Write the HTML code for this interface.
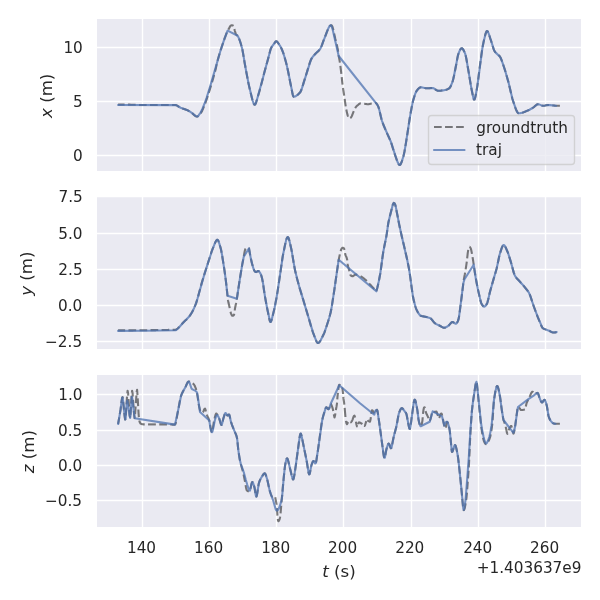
<!DOCTYPE html>
<html lang="en">
<head>
<meta charset="utf-8">
<title>traj xyz</title>
<style>
html,body{margin:0;padding:0;background:#fff;}
body{width:600px;height:600px;overflow:hidden;font-family:"DejaVu Sans","Liberation Sans",sans-serif;}
svg{display:block;}
text{text-rendering:auto;}
</style>
</head>
<body>
<svg width="600" height="600" viewBox="0 0 432 432">
 <defs>
  <style type="text/css">*{stroke-linejoin: round; stroke-linecap: butt}</style>
 </defs>
 <g id="figure_1">
  <g id="patch_1">
   <path d="M 0 432 L 432 432 L 432 0 L 0 0 z
" style="fill: #ffffff"/>
  </g>
  <g id="axes_1">
   <g id="patch_2">
    <path d="M 69.12 123.84 L 419.04 123.84 L 419.04 12.96 L 69.12 12.96 z
" style="fill: #eaeaf2"/>
   </g>
   <g id="matplotlib.axis_1">
    <g id="xtick_1">
     <g id="line2d_1">
      <path d="M 102.600 123.840 L 102.600 12.960" clip-path="url(#p8c6adeb11e)" style="fill: none; stroke: #ffffff; stroke-linecap: round"/>
     </g>
    </g>
    <g id="xtick_2">
     <g id="line2d_2">
      <path d="M 150.840 123.840 L 150.840 12.960" clip-path="url(#p8c6adeb11e)" style="fill: none; stroke: #ffffff; stroke-linecap: round"/>
     </g>
    </g>
    <g id="xtick_3">
     <g id="line2d_3">
      <path d="M 199.080 123.840 L 199.080 12.960" clip-path="url(#p8c6adeb11e)" style="fill: none; stroke: #ffffff; stroke-linecap: round"/>
     </g>
    </g>
    <g id="xtick_4">
     <g id="line2d_4">
      <path d="M 247.320 123.840 L 247.320 12.960" clip-path="url(#p8c6adeb11e)" style="fill: none; stroke: #ffffff; stroke-linecap: round"/>
     </g>
    </g>
    <g id="xtick_5">
     <g id="line2d_5">
      <path d="M 296.280 123.840 L 296.280 12.960" clip-path="url(#p8c6adeb11e)" style="fill: none; stroke: #ffffff; stroke-linecap: round"/>
     </g>
    </g>
    <g id="xtick_6">
     <g id="line2d_6">
      <path d="M 344.520 123.840 L 344.520 12.960" clip-path="url(#p8c6adeb11e)" style="fill: none; stroke: #ffffff; stroke-linecap: round"/>
     </g>
    </g>
    <g id="xtick_7">
     <g id="line2d_7">
      <path d="M 392.760 123.840 L 392.760 12.960" clip-path="url(#p8c6adeb11e)" style="fill: none; stroke: #ffffff; stroke-linecap: round"/>
     </g>
    </g>
   </g>
   <g id="matplotlib.axis_2">
    <g id="ytick_1">
     <g id="line2d_8">
      <path d="M 69.120 111.960 L 419.040 111.960" clip-path="url(#p8c6adeb11e)" style="fill: none; stroke: #ffffff; stroke-linecap: round"/>
     </g>
     <g id="text_1" transform="translate(-0.038 -0.112)">
      <text style="font-size: 11px; font-family: 'DejaVu Sans', 'Liberation Sans', sans-serif; text-anchor: end; fill: #262626" x="59.62" y="115.779141">0</text>
     </g>
    </g>
    <g id="ytick_2">
     <g id="line2d_9">
      <path d="M 69.120 73.080 L 419.040 73.080" clip-path="url(#p8c6adeb11e)" style="fill: none; stroke: #ffffff; stroke-linecap: round"/>
     </g>
     <g id="text_2" transform="translate(-0.003 -0.040)">
      <text style="font-size: 11px; font-family: 'DejaVu Sans', 'Liberation Sans', sans-serif; text-anchor: end; fill: #262626" x="59.62" y="76.899141">5</text>
     </g>
    </g>
    <g id="ytick_3">
     <g id="line2d_10">
      <path d="M 69.120 34.200 L 419.040 34.200" clip-path="url(#p8c6adeb11e)" style="fill: none; stroke: #ffffff; stroke-linecap: round"/>
     </g>
     <g id="text_3" transform="translate(0.038 -0.028)">
      <text style="font-size: 11px; font-family: 'DejaVu Sans', 'Liberation Sans', sans-serif; text-anchor: end; fill: #262626" x="59.62" y="38.019141">10</text>
     </g>
    </g>
    <g id="text_4" transform="translate(-0.485 0.543)">
     <g style="fill: #262626" transform="translate(39.126875 84.42) rotate(-90)">
      <text x="0" y="-0.890625" style="font-size: 12px; font-family: 'DejaVu Sans', 'Liberation Sans', sans-serif; fill: #262626"><tspan style="font-style: oblique">x</tspan> (m)</text>
     </g>
    </g>
   </g>
   <g id="line2d_11">
    <path d="M 85.03 75.35 L 85.39 75.35 L 85.75 75.35 L 86.11 75.35 L 86.47 75.35 L 86.83 75.35 L 87.19 75.35 L 87.55 75.35 L 87.91 75.35 L 88.27 75.35 L 88.63 75.35 L 88.99 75.35 L 89.35 75.35 L 89.71 75.35 L 90.07 75.35 L 90.43 75.35 L 90.79 75.35 L 91.15 75.35 L 91.51 75.35 L 91.87 75.35 L 92.23 75.35 L 92.59 75.35 L 92.95 75.35 L 93.31 75.35 L 93.67 75.35 L 94.03 75.36 L 94.39 75.38 L 94.75 75.39 L 95.11 75.40 L 95.47 75.41 L 95.83 75.43 L 96.19 75.44 L 96.55 75.45 L 96.91 75.46 L 97.27 75.48 L 97.63 75.49 L 97.99 75.50 L 98.35 75.51 L 98.71 75.53 L 99.07 75.54 L 99.43 75.55 L 99.79 75.56 L 100.15 75.58 L 100.51 75.59 L 100.87 75.60 L 101.23 75.60 L 101.59 75.60 L 101.95 75.60 L 102.31 75.60 L 102.67 75.60 L 103.03 75.60 L 103.39 75.60 L 103.75 75.60 L 104.11 75.60 L 104.47 75.60 L 104.83 75.60 L 105.19 75.60 L 105.55 75.60 L 105.91 75.60 L 106.27 75.60 L 106.63 75.60 L 106.99 75.60 L 107.35 75.60 L 107.71 75.60 L 108.07 75.60 L 108.43 75.60 L 108.79 75.60 L 109.15 75.60 L 109.51 75.60 L 109.87 75.60 L 110.23 75.60 L 110.59 75.60 L 110.95 75.60 L 111.31 75.60 L 111.67 75.60 L 112.03 75.60 L 112.39 75.60 L 112.75 75.60 L 113.11 75.60 L 113.47 75.60 L 113.83 75.60 L 114.19 75.60 L 114.55 75.60 L 114.91 75.60 L 115.27 75.60 L 115.63 75.60 L 115.99 75.60 L 116.35 75.60 L 116.71 75.60 L 117.07 75.60 L 117.43 75.60 L 117.79 75.60 L 118.15 75.60 L 118.51 75.60 L 118.87 75.60 L 119.23 75.60 L 119.59 75.60 L 119.95 75.60 L 120.31 75.60 L 120.67 75.60 L 121.03 75.60 L 121.39 75.60 L 121.75 75.60 L 122.11 75.60 L 122.47 75.60 L 122.83 75.60 L 123.19 75.60 L 123.55 75.60 L 123.91 75.60 L 124.27 75.60 L 124.63 75.60 L 124.99 75.60 L 125.35 75.60 L 125.71 75.60 L 126.07 75.60 L 126.43 75.62 L 126.79 75.70 L 127.15 75.85 L 127.51 76.05 L 127.87 76.29 L 128.23 76.54 L 128.59 76.79 L 128.95 77.04 L 129.31 77.26 L 129.67 77.43 L 130.03 77.59 L 130.39 77.73 L 130.75 77.87 L 131.11 77.99 L 131.47 78.12 L 131.83 78.24 L 132.19 78.36 L 132.55 78.48 L 132.91 78.60 L 133.27 78.72 L 133.63 78.85 L 133.99 78.98 L 134.35 79.12 L 134.71 79.27 L 135.07 79.43 L 135.43 79.60 L 135.79 79.78 L 136.15 79.98 L 136.51 80.19 L 136.87 80.41 L 137.23 80.65 L 137.59 80.89 L 137.95 81.15 L 138.31 81.42 L 138.67 81.73 L 139.03 82.08 L 139.39 82.45 L 139.75 82.80 L 140.11 83.11 L 140.47 83.35 L 140.83 83.57 L 141.19 83.77 L 141.55 83.91 L 141.91 83.95 L 142.27 83.81 L 142.63 83.52 L 142.99 83.12 L 143.37 82.64 L 143.84 82.12 L 144.31 81.62 L 144.78 81.06 L 145.22 80.41 L 145.58 79.68 L 145.94 78.89 L 146.30 78.06 L 146.66 77.19 L 147.02 76.31 L 147.38 75.42 L 147.74 74.50 L 148.10 73.54 L 148.46 72.53 L 148.82 71.48 L 149.18 70.41 L 149.54 69.31 L 149.90 68.18 L 150.26 67.04 L 150.62 65.89 L 150.98 64.73 L 151.34 63.57 L 151.70 62.41 L 152.06 61.23 L 152.42 60.02 L 152.78 58.78 L 153.14 57.53 L 153.50 56.27 L 153.86 55.00 L 154.22 53.73 L 154.58 52.45 L 154.94 51.18 L 155.28 49.93 L 155.53 48.68 L 155.79 47.41 L 156.04 46.13 L 156.31 44.85 L 156.67 43.56 L 157.03 42.29 L 157.39 41.02 L 157.75 39.78 L 158.11 38.56 L 158.47 37.37 L 158.83 36.22 L 159.19 35.11 L 159.55 34.00 L 159.91 32.92 L 160.27 31.84 L 160.63 30.78 L 160.99 29.74 L 161.35 28.71 L 161.71 27.70 L 162.07 26.71 L 162.43 25.73 L 162.79 24.78 L 163.15 23.84 L 163.51 22.93 L 163.87 22.03 L 164.24 21.56 L 164.37 21.36" clip-path="url(#p8c6adeb11e)" style="fill: none; stroke-dasharray: 5.550,2.400; stroke-dashoffset: 0.876; stroke: #000000; stroke-opacity: 0.5; stroke-width: 1.5"/>
<path d="M 164.38 21.35 L 164.60 21.03 L 164.97 20.43 L 165.34 19.63 L 165.70 18.87 L 166.07 18.52 L 166.43 18.34 L 166.80 18.24 L 167.17 18.22 L 167.53 18.29 L 167.90 18.44 L 168.26 18.69 L 168.63 20.31 L 169.00 21.99 L 169.36 23.17 L 169.73 24.19 L 170.09 24.92 L 170.46 25.27 L 170.82 25.52 L 171.18 25.96 L 171.54 26.56 L 171.90 27.30 L 172.26 28.17 L 172.62 29.15 L 172.98 30.21 L 173.34 31.35 L 173.70 32.53 L 174.06 33.74 L 174.42 35.23 L 174.78 37.09 L 175.14 39.20 L 175.50 41.43 L 175.86 43.67 L 176.22 45.80 L 176.58 47.74 L 176.94 49.67 L 177.30 51.62 L 177.66 53.56 L 178.02 55.48 L 178.38 57.36 L 178.74 59.18 L 179.10 60.91 L 179.46 62.55 L 179.82 64.07 L 180.18 65.49 L 180.54 66.97 L 180.89 68.49 L 181.25 69.99 L 181.61 71.42 L 181.97 72.72 L 182.33 73.82 L 182.69 74.67 L 183.05 75.21 L 183.41 75.38 L 183.77 75.11 L 184.13 74.44 L 184.49 73.48 L 184.85 72.31 L 185.21 71.03 L 185.57 69.74 L 185.93 68.54 L 186.29 67.40 L 186.65 66.20 L 187.01 64.94 L 187.37 63.63 L 187.73 62.28 L 188.09 60.90 L 188.45 59.50 L 188.81 58.08 L 189.17 56.66 L 189.53 55.24 L 189.89 53.84 L 190.25 52.45 L 190.61 51.10 L 190.97 49.78 L 191.33 48.48 L 191.69 47.18 L 192.05 45.89 L 192.41 44.60 L 192.77 43.32 L 193.13 42.03 L 193.49 40.65 L 193.85 39.18 L 194.21 37.72 L 194.57 36.36 L 194.93 35.21 L 195.29 34.37 L 195.65 33.77 L 196.01 33.29 L 196.37 32.86 L 196.73 32.45 L 197.09 32.01 L 197.45 31.45 L 197.81 30.82 L 198.17 30.24 L 198.53 29.82 L 198.89 29.66 L 199.25 29.80 L 199.61 30.13 L 199.97 30.58 L 200.33 31.07 L 200.69 31.53 L 201.05 32.03 L 201.40 32.58 L 201.76 33.19 L 202.12 33.85 L 202.48 34.56 L 202.84 35.32 L 203.20 36.16 L 203.56 37.09 L 203.92 38.10 L 204.28 39.18 L 204.64 40.34 L 205.00 41.55 L 205.36 42.82 L 205.72 44.13 L 206.08 45.48 L 206.44 46.87 L 206.80 48.38 L 207.16 50.06 L 207.52 51.85 L 207.88 53.72 L 208.24 55.61 L 208.60 57.48 L 208.96 59.28 L 209.32 60.96 L 209.68 62.66 L 210.04 64.57 L 210.40 66.46 L 210.76 68.09 L 211.12 69.22 L 211.48 69.62 L 211.84 69.60 L 212.20 69.52 L 212.56 69.40 L 212.92 69.24 L 213.28 69.04 L 213.64 68.81 L 214.00 68.54 L 214.36 68.24 L 214.72 67.92 L 215.08 67.57 L 215.44 67.20 L 215.80 66.82 L 216.16 66.40 L 216.52 65.79 L 216.88 64.99 L 217.24 64.03 L 217.60 62.95 L 217.96 61.78 L 218.32 60.57 L 218.68 59.34 L 219.04 58.13 L 219.40 56.99 L 219.76 55.92 L 220.12 54.80 L 220.48 53.64 L 220.84 52.43 L 221.20 51.21 L 221.55 49.98 L 221.91 48.76 L 222.27 47.57 L 222.63 46.42 L 222.99 45.34 L 223.35 44.34 L 223.71 43.43 L 224.07 42.63 L 224.43 41.96 L 224.79 41.40 L 225.15 40.90 L 225.51 40.45 L 225.87 40.04 L 226.23 39.64 L 226.59 39.25 L 226.95 38.86 L 227.31 38.49 L 227.67 38.16 L 228.03 37.85 L 228.39 37.54 L 228.75 37.23 L 229.11 36.91 L 229.47 36.55 L 229.83 36.16 L 230.19 35.71 L 230.55 35.19 L 230.91 34.53 L 231.27 33.74 L 231.63 32.84 L 231.99 31.87 L 232.35 30.85 L 232.71 29.81 L 233.07 28.79 L 233.43 27.81 L 233.79 26.91 L 234.15 26.09 L 234.51 25.22 L 234.87 24.30 L 235.23 23.36 L 235.59 22.42 L 235.95 21.51 L 236.31 20.66 L 236.67 19.89 L 237.03 19.23 L 237.45 18.72 L 237.95 18.37 L 238.45 18.22 L 238.90 18.39 L 239.26 19.05 L 239.62 20.10 L 239.98 21.45 L 240.34 23.00 L 240.70 24.66 L 241.06 26.34 L 241.42 27.93 L 241.78 29.37 L 242.14 30.81 L 242.50 32.29 L 242.86 33.82 L 243.22 35.39 L 243.43 37.00 L 243.65 38.64 L 243.86 40.32 L 244.23 42.13 L 244.59 44.22 L 244.95 46.61 L 245.07 47.47" clip-path="url(#p8c6adeb11e)" style="fill: none; stroke-dasharray: 5.550,2.400; stroke-dashoffset: 0.000; stroke: #000000; stroke-opacity: 0.5; stroke-width: 1.5"/>
<path d="M 245.07 47.49 L 245.31 49.32 L 245.67 52.26 L 246.03 55.54" clip-path="url(#p8c6adeb11e)" style="fill: none; stroke-dasharray: 5.669,2.451; stroke-dashoffset: 0.000; stroke: #000000; stroke-opacity: 0.5; stroke-width: 1.5"/>
<path d="M 246.04 55.55 L 246.04 55.55 L 246.40 59.10 L 246.76 62.04 L 246.95 63.34" clip-path="url(#p8c6adeb11e)" style="fill: none; stroke-dasharray: 5.487,2.373; stroke-dashoffset: 0.000; stroke: #000000; stroke-opacity: 0.5; stroke-width: 1.5"/>
<path d="M 246.95 63.36 L 247.12 64.50 L 247.48 66.76 L 247.85 69.03 L 248.16 71.18" clip-path="url(#p8c6adeb11e)" style="fill: none; stroke-dasharray: 5.538,2.395; stroke-dashoffset: 0.000; stroke: #000000; stroke-opacity: 0.5; stroke-width: 1.5"/>
<path d="M 248.16 71.20 L 248.21 71.53 L 248.57 74.21 L 248.93 76.69 L 249.29 78.65 L 249.34 78.86" clip-path="url(#p8c6adeb11e)" style="fill: none; stroke-dasharray: 5.427,2.347; stroke-dashoffset: 0.000; stroke: #000000; stroke-opacity: 0.5; stroke-width: 1.5"/>
<path d="M 249.34 78.88 L 249.66 80.41 L 250.02 81.98 L 250.38 83.24 L 250.74 84.11 L 251.10 84.82 L 251.46 85.17 L 251.83 85.12 L 252.18 84.96" clip-path="url(#p8c6adeb11e)" style="fill: none; stroke-dasharray: 5.234,2.263; stroke-dashoffset: 0.000; stroke: #000000; stroke-opacity: 0.5; stroke-width: 1.5"/>
<path d="M 252.19 84.96 L 252.55 84.74 L 252.91 84.33 L 253.27 83.65 L 253.64 82.80 L 254.00 81.85 L 254.36 80.91 L 254.72 80.05 L 255.08 79.18 L 255.45 78.32 L 255.69 77.87" clip-path="url(#p8c6adeb11e)" style="fill: none; stroke-dasharray: 5.597,2.420; stroke-dashoffset: 0.000; stroke: #000000; stroke-opacity: 0.5; stroke-width: 1.5"/>
<path d="M 255.69 77.86 L 255.81 77.65 L 256.17 77.15 L 256.53 76.72 L 256.89 76.35 L 257.26 76.02 L 257.62 75.71 L 257.98 75.42 L 258.34 75.11 L 258.70 74.81 L 259.07 74.58 L 259.43 74.46 L 259.79 74.45 L 260.15 74.47 L 260.51 74.50 L 260.88 74.53 L 261.24 74.58 L 261.60 74.62 L 261.96 74.67 L 262.20 74.69" clip-path="url(#p8c6adeb11e)" style="fill: none; stroke-dasharray: 5.526,2.390; stroke-dashoffset: 0.000; stroke: #000000; stroke-opacity: 0.5; stroke-width: 1.5"/>
<path d="M 262.21 74.69 L 262.32 74.71 L 262.69 74.75 L 263.05 74.81 L 263.41 74.87 L 263.77 74.92 L 264.13 74.97 L 264.49 75.01 L 264.86 75.02 L 265.22 75.01 L 265.58 74.97 L 265.94 74.91 L 266.30 74.82 L 266.67 74.73 L 267.03 74.64 L 267.39 74.57 L 267.75 74.51 L 268.11 74.45 L 268.48 74.40 L 268.84 74.36 L 269.20 74.31 L 269.56 74.27 L 269.92 74.23 L 270.29 74.19 L 270.65 74.16 L 271.01 74.46 L 271.37 74.92 L 271.73 75.52 L 272.09 76.22 L 272.45 76.99 L 272.81 78.06 L 273.17 79.43 L 273.53 81.01 L 273.89 82.65 L 274.25 84.25 L 274.61 85.68 L 274.97 86.85 L 275.33 87.90 L 275.69 88.89 L 276.05 89.82 L 276.41 90.72 L 276.77 91.58 L 277.13 92.42 L 277.49 93.25 L 277.85 94.07 L 278.21 94.90 L 278.57 95.75 L 278.93 96.55 L 279.29 97.33 L 279.65 98.09 L 280.01 98.86 L 280.37 99.63 L 280.73 100.45 L 281.09 101.31 L 281.45 102.23 L 281.81 103.27 L 282.17 104.41 L 282.53 105.62 L 282.89 106.86 L 283.25 108.10 L 283.62 109.30 L 283.98 110.42 L 284.34 111.43 L 284.70 112.38 L 285.06 113.40 L 285.42 114.43 L 285.78 115.44 L 286.14 116.39 L 286.50 117.24 L 286.86 117.95 L 287.22 118.46 L 287.58 118.75 L 287.94 118.77 L 288.30 118.45 L 288.66 117.85 L 289.02 117.02 L 289.38 116.02 L 289.74 114.91 L 290.10 113.73 L 290.46 112.54 L 290.82 111.10 L 291.18 109.35 L 291.54 107.37 L 291.90 105.23 L 292.26 103.02 L 292.62 100.80 L 292.98 98.63 L 293.34 96.32 L 293.70 93.88 L 294.06 91.40 L 294.42 88.93 L 294.78 86.56 L 295.14 84.36 L 295.50 82.30 L 295.86 80.25 L 296.22 78.25 L 296.58 76.36 L 296.94 74.60 L 297.30 73.04 L 297.66 71.69 L 298.02 70.45 L 298.38 69.27 L 298.74 68.17 L 299.10 67.19 L 299.46 66.35 L 299.82 65.67 L 300.18 65.17 L 300.54 64.70 L 300.90 64.26 L 301.26 63.86 L 301.63 63.51 L 301.99 63.23 L 302.35 63.01 L 302.71 62.89 L 303.07 62.86 L 303.43 62.88 L 303.79 62.92 L 304.15 62.99 L 304.51 63.07 L 304.87 63.16 L 305.23 63.25 L 305.59 63.34 L 305.95 63.42 L 306.31 63.49 L 306.67 63.54 L 307.03 63.57 L 307.39 63.58 L 307.75 63.57 L 308.11 63.55 L 308.47 63.53 L 308.83 63.50 L 309.19 63.48 L 309.55 63.45 L 309.91 63.42 L 310.27 63.40 L 310.63 63.38 L 310.99 63.37 L 311.35 63.36 L 311.71 63.39 L 312.07 63.50 L 312.43 63.67 L 312.79 63.88 L 313.15 64.13 L 313.51 64.39 L 313.87 64.64 L 314.23 64.88 L 314.59 65.09 L 314.95 65.25 L 315.31 65.35 L 315.67 65.38 L 316.03 65.37 L 316.39 65.35 L 316.75 65.33 L 317.11 65.30 L 317.47 65.27 L 317.83 65.22 L 318.19 65.18 L 318.55 65.12 L 318.91 65.07 L 319.27 65.01 L 319.64 64.94 L 320.00 64.88 L 320.36 64.81 L 320.72 64.73 L 321.08 64.65 L 321.44 64.54 L 321.80 64.42 L 322.16 64.28 L 322.52 64.11 L 322.88 63.92 L 323.24 63.70 L 323.60 63.43 L 323.96 63.00 L 324.32 62.41 L 324.68 61.68 L 325.04 60.84 L 325.40 59.92 L 325.76 58.94 L 326.12 57.81 L 326.48 56.38 L 326.84 54.74 L 327.20 52.96 L 327.56 51.11 L 327.92 49.28 L 328.28 47.51 L 328.64 45.55 L 329.00 43.48 L 329.36 41.51 L 329.72 39.87 L 330.08 38.74 L 330.44 37.80 L 330.80 36.91 L 331.16 36.12 L 331.52 35.47 L 331.88 35.00 L 332.24 34.74 L 332.60 34.73 L 332.96 34.96 L 333.32 35.38 L 333.68 35.96 L 334.04 36.66 L 334.40 37.45 L 334.76 38.29 L 335.12 39.35 L 335.48 40.85 L 335.84 42.68 L 336.20 44.72 L 336.56 46.86 L 336.92 48.99 L 337.28 51.00 L 337.65 53.12 L 338.01 55.35 L 338.37 57.63 L 338.73 59.88 L 339.09 62.01 L 339.45 63.94 L 339.81 65.68 L 340.17 67.55 L 340.53 69.35 L 340.89 70.81 L 341.25 71.67 L 341.61 71.67 L 341.97 70.84 L 342.33 69.41 L 342.69 67.63 L 343.05 65.71 L 343.41 63.79 L 343.77 61.44 L 344.13 58.71 L 344.49 55.74 L 344.85 52.71 L 345.21 49.75 L 345.57 47.02 L 345.93 44.43 L 346.29 41.79 L 346.65 39.17 L 347.01 36.67 L 347.37 34.36 L 347.73 32.34 L 348.09 30.67 L 348.45 29.05 L 348.81 27.44 L 349.17 25.92 L 349.53 24.58 L 349.89 23.48 L 350.25 22.71 L 350.61 22.34 L 350.97 22.43 L 351.33 22.92 L 351.69 23.70 L 352.05 24.70 L 352.41 25.83 L 352.77 26.99 L 353.13 28.12 L 353.49 29.12 L 353.85 30.21 L 354.21 31.40 L 354.57 32.64 L 354.93 33.84 L 355.29 34.97 L 355.66 35.94 L 356.02 36.70 L 356.38 37.25 L 356.74 37.70 L 357.10 38.07 L 357.46 38.40 L 357.82 38.69 L 358.18 38.96 L 358.54 39.24 L 358.90 39.55 L 359.26 39.89 L 359.62 40.30 L 359.98 40.79 L 360.34 41.41 L 360.70 42.18 L 361.06 43.07 L 361.42 44.05 L 361.78 45.07 L 362.14 46.12 L 362.50 47.15 L 362.86 48.22 L 363.22 49.33 L 363.58 50.47 L 363.94 51.66 L 364.30 52.87 L 364.66 54.12 L 365.02 55.38 L 365.38 56.67 L 365.74 57.97 L 366.10 59.29 L 366.46 60.70 L 366.82 62.21 L 367.18 63.78 L 367.54 65.37 L 367.90 66.95 L 368.26 68.49 L 368.62 69.96 L 368.98 71.32 L 369.34 72.53 L 369.70 73.58 L 370.06 74.63 L 370.42 75.70 L 370.78 76.75 L 371.14 77.77 L 371.50 78.72 L 371.86 79.58 L 372.22 80.33 L 372.58 80.92 L 372.94 81.34 L 373.30 81.55 L 373.67 81.57 L 374.03 81.55 L 374.39 81.52 L 374.75 81.46 L 375.11 81.39 L 375.47 81.31 L 375.83 81.21 L 376.19 81.10 L 376.55 80.99 L 376.91 80.86 L 377.27 80.72 L 377.63 80.58 L 377.99 80.43 L 378.35 80.28 L 378.71 80.13 L 379.07 79.97 L 379.43 79.82 L 379.79 79.66 L 380.15 79.51 L 380.51 79.36 L 380.87 79.20 L 381.23 79.02 L 381.59 78.83 L 381.95 78.63 L 382.31 78.42 L 382.67 78.21 L 383.03 77.99 L 383.39 77.77 L 383.75 77.54 L 384.11 77.31 L 384.47 77.04 L 384.83 76.72 L 385.19 76.39 L 385.55 76.05 L 385.91 75.74 L 386.27 75.45 L 386.63 75.23 L 386.99 75.08 L 387.35 75.02 L 387.71 75.05 L 388.07 75.13 L 388.43 75.25 L 388.79 75.39 L 389.15 75.55 L 389.51 75.71 L 389.87 75.87 L 390.23 76.00 L 390.59 76.10 L 390.95 76.16 L 391.31 76.17 L 391.68 76.15 L 392.04 76.09 L 392.40 76.02 L 392.76 75.94 L 393.12 75.85 L 393.48 75.77 L 393.84 75.70 L 394.20 75.64 L 394.56 75.61 L 394.92 75.60 L 395.28 75.61 L 395.64 75.64 L 396.00 75.67 L 396.36 75.71 L 396.72 75.75 L 397.08 75.80 L 397.44 75.85 L 397.69 75.88" clip-path="url(#p8c6adeb11e)" style="fill: none; stroke-dasharray: 5.521,2.388; stroke-dashoffset: 0.000; stroke: #000000; stroke-opacity: 0.5; stroke-width: 1.5"/>
<path d="M 397.71 75.88 L 397.80 75.89 L 398.16 75.94 L 398.52 75.98 L 398.88 76.01 L 399.24 76.05 L 399.60 76.09 L 399.96 76.13 L 400.32 76.18 L 403.13 76.18" clip-path="url(#p8c6adeb11e)" style="fill: none; stroke-dasharray: 5.550,2.400; stroke-dashoffset: 0.000; stroke: #000000; stroke-opacity: 0.5; stroke-width: 1.5"/>
   </g>
   <g id="line2d_12">
    <path d="M 85.032 75.6 L 126.792 75.702367 L 127.511999 76.053047 L 130.032 77.585245 L 132.552 78.478192 L 135.071999 79.425131 L 136.512 80.187827 L 138.311999 81.415037 L 141.191999 83.770574 L 141.911999 83.947899 L 142.271999 83.814427 L 142.991999 83.116794 L 144.432 81.056721 L 145.512 78.891493 L 147.311999 74.501569 L 148.752 70.409741 L 151.271999 62.407509 L 153.432 54.999995 L 158.832 36.224955 L 161.351999 28.709027 L 163.512 22.926095 L 163.871999 22.032 L 170.819823 25.522408 L 171.53947 26.556131 L 172.259117 28.171525 L 173.338588 31.346969 L 174.418058 35.231824 L 175.137706 39.195661 L 176.936823 49.670952 L 179.095764 60.914623 L 180.535058 66.96603 L 181.974352 72.719611 L 182.693999 74.673332 L 183.053823 75.212996 L 183.413646 75.382312 L 183.77347 75.11147 L 184.133294 74.444729 L 184.852941 72.307899 L 189.170823 56.660724 L 191.689588 47.180225 L 193.848529 39.180023 L 194.927999 35.214578 L 195.647647 33.77172 L 198.526235 29.815626 L 198.886058 29.664512 L 199.245882 29.803125 L 199.965529 30.581591 L 201.764647 33.189841 L 202.844117 35.32417 L 203.923587 38.100647 L 205.003058 41.549537 L 206.442353 46.871698 L 207.521823 51.85239 L 210.760235 68.088871 L 211.120058 69.221451 L 211.479882 69.62395 L 212.199529 69.521784 L 212.919176 69.240744 L 213.998646 68.53781 L 215.078117 67.571305 L 216.157588 66.402731 L 216.877235 64.989574 L 217.596882 62.948576 L 223.713881 43.426772 L 224.433528 41.960055 L 225.513 40.450296 L 227.312117 38.494826 L 230.190705 35.711532 L 230.910352 34.532703 L 231.629999 32.839182 L 235.588058 22.419581 L 236.667529 19.886977 L 237.387176 18.717199 L 237.747 18.370786 L 238.106823 18.220195 L 238.466647 18.39262 L 238.82647 19.048645 L 239.546117 21.44889 L 243.864 40.32 L 271.7286 75.521185 L 272.448999 76.990769 L 273.169399 79.434035 L 274.970399 86.846788 L 276.411199 90.717027 L 279.292799 97.331366 L 281.0938 101.305704 L 281.814199 103.27125 L 285.4162 114.42884 L 286.496799 117.242283 L 287.217199 118.463594 L 287.5774 118.753021 L 287.9376 118.767325 L 288.297799 118.453708 L 288.658 117.853885 L 289.378399 116.023526 L 290.458999 112.544003 L 291.179399 109.352887 L 292.26 103.01716 L 294.061 91.396362 L 295.5018 82.296629 L 296.942599 74.604269 L 297.663 71.693631 L 298.743599 68.172951 L 299.463999 66.347822 L 300.1844 65.165256 L 301.264999 63.86438 L 301.9854 63.225486 L 302.705799 62.885832 L 303.426199 62.878546 L 304.866999 63.157 L 306.667999 63.542226 L 308.108799 63.551019 L 311.7108 63.391838 L 312.431199 63.668077 L 313.872 64.642934 L 314.9526 65.254634 L 315.672999 65.375678 L 317.474 65.265821 L 319.995399 64.876816 L 321.4362 64.542613 L 322.516799 64.111171 L 323.5974 63.433291 L 324.3178 62.406624 L 325.038199 60.838186 L 326.1188 57.805768 L 326.839199 54.739877 L 328.640199 45.554531 L 329.720799 39.869806 L 330.441199 37.799276 L 331.161599 36.122619 L 331.881999 34.995718 L 332.2422 34.738521 L 332.602399 34.73366 L 332.962599 34.960959 L 333.683 35.96179 L 334.763599 38.289873 L 335.123799 39.349748 L 335.8442 42.679625 L 338.0054 55.351059 L 339.446199 63.940674 L 340.886999 70.810286 L 341.2472 71.667567 L 341.607399 71.666129 L 341.967599 70.837267 L 342.687999 67.625575 L 343.7686 61.437786 L 347.370599 34.363051 L 348.091 30.668852 L 349.531799 24.575924 L 350.2522 22.705151 L 350.612399 22.339075 L 350.9726 22.432624 L 351.332799 22.916075 L 352.0532 24.700329 L 355.6552 35.940137 L 356.3756 37.247977 L 357.095999 38.072512 L 359.9776 40.79057 L 360.697999 42.17918 L 361.7786 45.073963 L 363.9398 51.658629 L 366.101 59.287111 L 367.5418 65.366857 L 368.982599 71.315207 L 370.0632 74.630509 L 371.503999 78.723301 L 372.2244 80.325812 L 372.944799 81.337533 L 373.304999 81.552738 L 374.3856 81.515072 L 375.826399 81.211256 L 377.627399 80.581361 L 381.229399 79.020733 L 383.390599 77.765688 L 384.4712 77.037144 L 386.6324 75.229689 L 387.352799 75.024023 L 388.0732 75.129679 L 389.513999 75.710779 L 390.5946 76.103924 L 391.315 76.17349 L 392.3956 76.022468 L 394.5568 75.606146 L 395.9976 75.667246 L 400.32 76.176 L 400.32 76.176 
" clip-path="url(#p8c6adeb11e)" style="fill: none; stroke: #4c72b0; stroke-opacity: 0.75; stroke-width: 1.5; stroke-linecap: round"/>
   </g>
   <g id="patch_3">
    <path d="M 69.12 123.84 L 69.12 12.96 
" style="fill: none; stroke: #ffffff; stroke-width: 1.44; stroke-linejoin: miter; stroke-linecap: square"/>
   </g>
   <g id="patch_4">
    <path d="M 419.04 123.84 L 419.04 12.96 
" style="fill: none; stroke: #ffffff; stroke-width: 1.44; stroke-linejoin: miter; stroke-linecap: square"/>
   </g>
   <g id="patch_5">
    <path d="M 69.119999 123.84 L 419.039999 123.84 
" style="fill: none; stroke: #ffffff; stroke-width: 1.44; stroke-linejoin: miter; stroke-linecap: square"/>
   </g>
   <g id="patch_6">
    <path d="M 69.119999 12.96 L 419.039999 12.96 
" style="fill: none; stroke: #ffffff; stroke-width: 1.44; stroke-linejoin: miter; stroke-linecap: square"/>
   </g>
   <g id="legend_1">
    <g id="patch_7">
     <path d="M 310.720 118.440 L 411.440 118.440 Q 413.640 118.440 413.640 116.240 L 413.640 85.360 Q 413.640 83.160 411.440 83.160 L 310.720 83.160 Q 308.520 83.160 308.520 85.360 L 308.520 116.240 Q 308.520 118.440 310.720 118.440 z" style="fill: #eaeaf2; opacity: 0.8; stroke: #cccccc; stroke-linejoin: miter"/>
    </g>
<g transform="translate(-0.057 -0.308)">
    <g id="line2d_13">
     <path d="M 312.537 91.748 L 334.537 91.748" style="fill: none; stroke-dasharray: 5.55,2.4; stroke-dashoffset: 0; stroke: #000000; stroke-opacity: 0.5; stroke-width: 1.5"/>
    </g>
    <g id="text_5" transform="translate(-0.217 0.709)">
     <text style="font-size: 11px; font-family: 'DejaVu Sans', 'Liberation Sans', sans-serif; text-anchor: start; fill: #262626" x="343.136563" y="95.506406">groundtruth</text>
    </g>
    <g id="line2d_14">
     <path d="M 312.537 108.308 L 334.537 108.308" style="fill: none; stroke: #4c72b0; stroke-opacity: 0.75; stroke-width: 1.5; stroke-linecap: round"/>
    </g>
    <g id="text_6" transform="translate(-0.343 0.077)">
     <text style="font-size: 11px; font-family: 'DejaVu Sans', 'Liberation Sans', sans-serif; text-anchor: start; fill: #262626" x="343.136563" y="111.652344">traj</text>
    </g>
   </g>
</g></g>
  <g id="axes_2">
   <g id="patch_8">
    <path d="M 69.12 252 L 419.04 252 L 419.04 141.12 L 69.12 141.12 z
" style="fill: #eaeaf2"/>
   </g>
   <g id="matplotlib.axis_3">
    <g id="xtick_8">
     <g id="line2d_15">
      <path d="M 102.600 252.000 L 102.600 141.120" clip-path="url(#p5348a36c46)" style="fill: none; stroke: #ffffff; stroke-linecap: round"/>
     </g>
    </g>
    <g id="xtick_9">
     <g id="line2d_16">
      <path d="M 150.840 252.000 L 150.840 141.120" clip-path="url(#p5348a36c46)" style="fill: none; stroke: #ffffff; stroke-linecap: round"/>
     </g>
    </g>
    <g id="xtick_10">
     <g id="line2d_17">
      <path d="M 199.080 252.000 L 199.080 141.120" clip-path="url(#p5348a36c46)" style="fill: none; stroke: #ffffff; stroke-linecap: round"/>
     </g>
    </g>
    <g id="xtick_11">
     <g id="line2d_18">
      <path d="M 247.320 252.000 L 247.320 141.120" clip-path="url(#p5348a36c46)" style="fill: none; stroke: #ffffff; stroke-linecap: round"/>
     </g>
    </g>
    <g id="xtick_12">
     <g id="line2d_19">
      <path d="M 296.280 252.000 L 296.280 141.120" clip-path="url(#p5348a36c46)" style="fill: none; stroke: #ffffff; stroke-linecap: round"/>
     </g>
    </g>
    <g id="xtick_13">
     <g id="line2d_20">
      <path d="M 344.520 252.000 L 344.520 141.120" clip-path="url(#p5348a36c46)" style="fill: none; stroke: #ffffff; stroke-linecap: round"/>
     </g>
    </g>
    <g id="xtick_14">
     <g id="line2d_21">
      <path d="M 392.760 252.000 L 392.760 141.120" clip-path="url(#p5348a36c46)" style="fill: none; stroke: #ffffff; stroke-linecap: round"/>
     </g>
    </g>
   </g>
   <g id="matplotlib.axis_4">
    <g id="ytick_4">
     <g id="line2d_22">
      <path d="M 69.120 245.880 L 419.040 245.880" clip-path="url(#p5348a36c46)" style="fill: none; stroke: #ffffff; stroke-linecap: round"/>
     </g>
     <g id="text_7" transform="translate(-0.474 0.033)">
      <text style="font-size: 11px; font-family: 'DejaVu Sans', 'Liberation Sans', sans-serif; text-anchor: end; fill: #262626" x="59.62" y="249.843141">−2.5</text>
     </g>
    </g>
    <g id="ytick_5">
     <g id="line2d_23">
      <path d="M 69.120 219.960 L 419.040 219.960" clip-path="url(#p5348a36c46)" style="fill: none; stroke: #ffffff; stroke-linecap: round"/>
     </g>
     <g id="text_8" transform="translate(-0.387 -0.083)">
      <text style="font-size: 11px; font-family: 'DejaVu Sans', 'Liberation Sans', sans-serif; text-anchor: end; fill: #262626" x="59.62" y="223.779141">0.0</text>
     </g>
    </g>
    <g id="ytick_6">
     <g id="line2d_24">
      <path d="M 69.120 194.040 L 419.040 194.040" clip-path="url(#p5348a36c46)" style="fill: none; stroke: #ffffff; stroke-linecap: round"/>
     </g>
     <g id="text_9" transform="translate(-0.142 -0.003)">
      <text style="font-size: 11px; font-family: 'DejaVu Sans', 'Liberation Sans', sans-serif; text-anchor: end; fill: #262626" x="59.62" y="197.715141">2.5</text>
     </g>
    </g>
    <g id="ytick_7">
     <g id="line2d_25">
      <path d="M 69.120 168.120 L 419.040 168.120" clip-path="url(#p5348a36c46)" style="fill: none; stroke: #ffffff; stroke-linecap: round"/>
     </g>
     <g id="text_10" transform="translate(-0.240 0.709)">
      <text style="font-size: 11px; font-family: 'DejaVu Sans', 'Liberation Sans', sans-serif; text-anchor: end; fill: #262626" x="59.62" y="171.651141">5.0</text>
     </g>
    </g>
    <g id="ytick_8">
     <g id="line2d_26">
      <path d="M 69.120 141.480 L 419.040 141.480" clip-path="url(#p5348a36c46)" style="fill: none; stroke: #ffffff; stroke-linecap: round"/>
     </g>
     <g id="text_11" transform="translate(-0.045 -0.035)">
      <text style="font-size: 11px; font-family: 'DejaVu Sans', 'Liberation Sans', sans-serif; text-anchor: end; fill: #262626" x="59.62" y="145.587141">7.5</text>
     </g>
    </g>
    <g id="text_12" transform="translate(-2.204 0.402)">
     <g style="fill: #262626" transform="translate(26.388906 212.58) rotate(-90)">
      <text x="0" y="-0.890625" style="font-size: 12px; font-family: 'DejaVu Sans', 'Liberation Sans', sans-serif; fill: #262626"><tspan style="font-style: oblique">y</tspan> (m)</text>
     </g>
    </g>
   </g>
   <g id="line2d_27">
    <path d="M 85.03 237.85 L 85.39 237.85 L 85.75 237.85 L 86.11 237.85 L 86.47 237.85 L 86.83 237.85 L 87.19 237.85 L 87.55 237.85 L 87.91 237.85 L 88.27 237.85 L 88.63 237.85 L 88.99 237.85 L 89.35 237.85 L 89.71 237.85 L 90.07 237.85 L 90.43 237.85 L 90.79 237.85 L 91.15 237.85 L 91.51 237.85 L 91.87 237.85 L 92.23 237.85 L 92.59 237.85 L 92.94 237.85 L 93.30 237.85 L 93.66 237.85 L 94.02 237.85 L 94.38 237.85 L 94.74 237.85 L 95.10 237.85 L 95.46 237.85 L 95.82 237.85 L 96.18 237.84 L 96.54 237.84 L 96.90 237.84 L 97.26 237.84 L 97.62 237.83 L 97.98 237.83 L 98.34 237.83 L 98.70 237.82 L 99.06 237.82 L 99.42 237.82 L 99.78 237.81 L 100.14 237.81 L 100.50 237.80 L 100.86 237.80 L 101.22 237.79 L 101.58 237.79 L 101.94 237.79 L 102.30 237.78 L 102.66 237.78 L 103.02 237.77 L 103.38 237.77 L 103.73 237.76 L 104.09 237.76 L 104.45 237.75 L 104.81 237.75 L 105.17 237.74 L 105.53 237.74 L 105.89 237.73 L 106.25 237.73 L 106.61 237.72 L 106.97 237.72 L 107.33 237.72 L 107.69 237.71 L 108.05 237.71 L 108.41 237.70 L 108.77 237.70 L 109.13 237.70 L 109.49 237.69 L 109.85 237.69 L 110.21 237.68 L 110.57 237.68 L 110.93 237.67 L 111.29 237.67 L 111.65 237.66 L 112.01 237.66 L 112.37 237.66 L 112.73 237.65 L 113.09 237.65 L 113.45 237.64 L 113.81 237.64 L 114.17 237.63 L 114.53 237.63 L 114.88 237.62 L 115.24 237.62 L 115.60 237.61 L 115.96 237.61 L 116.32 237.60 L 116.68 237.60 L 117.04 237.59 L 117.40 237.59 L 117.76 237.59 L 118.12 237.58 L 118.48 237.58 L 118.84 237.57 L 119.20 237.57 L 119.56 237.56 L 119.92 237.56 L 120.28 237.55 L 120.64 237.55 L 121.00 237.54 L 121.36 237.54 L 121.72 237.54 L 122.08 237.53 L 122.44 237.53 L 122.80 237.52 L 123.16 237.52 L 123.52 237.52 L 123.88 237.51 L 124.24 237.51 L 124.60 237.51 L 124.96 237.50 L 125.32 237.50 L 125.67 237.49 L 126.03 237.46 L 126.39 237.36 L 126.75 237.20 L 127.11 237.02 L 127.47 236.80 L 127.83 236.53 L 128.19 236.22 L 128.55 235.89 L 128.91 235.53 L 129.27 235.15 L 129.63 234.76 L 129.99 234.36 L 130.35 233.96 L 130.71 233.56 L 131.07 233.17 L 131.43 232.77 L 131.79 232.39 L 132.15 232.03 L 132.51 231.69 L 132.87 231.34 L 133.23 231.00 L 133.59 230.66 L 133.95 230.32 L 134.31 229.97 L 134.67 229.60 L 135.03 229.23 L 135.39 228.84 L 135.75 228.43 L 136.11 227.99 L 136.46 227.54 L 136.82 227.05 L 137.18 226.54 L 137.54 225.98 L 137.90 225.39 L 138.26 224.76 L 138.62 224.10 L 138.98 223.40 L 139.34 222.66 L 139.70 221.89 L 140.06 221.09 L 140.42 220.25 L 140.78 219.37 L 141.14 218.40 L 141.50 217.32 L 141.86 216.16 L 142.22 214.93 L 142.58 213.64 L 142.94 212.30 L 143.30 210.94 L 143.66 209.56 L 144.02 208.18 L 144.38 206.82 L 144.74 205.49 L 145.10 204.21 L 145.46 202.98 L 145.82 201.80 L 146.18 200.62 L 146.54 199.46 L 146.90 198.31 L 147.26 197.16 L 147.61 196.03 L 147.97 194.90 L 148.33 193.77 L 148.69 192.65 L 149.05 191.54 L 149.41 190.43 L 149.77 189.32 L 150.13 188.20 L 150.49 187.05 L 150.85 185.89 L 151.21 184.73 L 151.57 183.58 L 151.93 182.47 L 152.29 181.39 L 152.65 180.37 L 153.01 179.41 L 153.37 178.54 L 153.73 177.66 L 154.09 176.74 L 154.45 175.82 L 154.81 174.94 L 155.17 174.15 L 155.53 173.48 L 155.89 172.98 L 156.25 172.70 L 156.61 172.69 L 156.97 173.06 L 157.33 173.74 L 157.69 174.68 L 158.05 175.79 L 158.40 176.99 L 158.76 178.22 L 159.12 179.63 L 159.48 181.38 L 159.84 183.39 L 160.20 185.57 L 160.56 187.83 L 160.92 190.10 L 161.28 192.39 L 161.64 194.81 L 162.00 197.36 L 162.36 200.06 L 162.72 202.92 L 163.08 206.03 L 163.44 209.39 L 163.80 212.94 L 164.12 215.87" clip-path="url(#p5348a36c46)" style="fill: none; stroke-dasharray: 5.550,2.400; stroke-dashoffset: 0.478; stroke: #000000; stroke-opacity: 0.5; stroke-width: 1.5"/>
<path d="M 164.13 215.88 L 164.16 216.16 L 164.51 218.03 L 164.87 219.46 L 165.22 220.97 L 165.58 222.95 L 165.92 224.44" clip-path="url(#p5348a36c46)" style="fill: none; stroke-dasharray: 6.119,2.646; stroke-dashoffset: 0.000; stroke: #000000; stroke-opacity: 0.5; stroke-width: 1.5"/>
<path d="M 165.92 224.46 L 165.94 224.51 L 166.29 225.64 L 166.65 226.47 L 167.01 227.17 L 167.36 227.37 L 167.72 227.31 L 168.07 227.19 L 168.43 226.86 L 168.79 225.60 L 169.01 223.57" clip-path="url(#p5348a36c46)" style="fill: none; stroke-dasharray: 5.536,2.394; stroke-dashoffset: 0.000; stroke: #000000; stroke-opacity: 0.5; stroke-width: 1.5"/>
<path d="M 169.02 223.56 L 169.14 222.41 L 169.50 220.54 L 169.86 218.85 L 170.21 216.97 L 170.57 215.06 L 170.92 212.59 L 171.27 210.17 L 171.62 207.79 L 171.98 205.45 L 172.33 203.16 L 172.68 200.91 L 173.03 198.70 L 173.39 196.53 L 173.74 194.42 L 174.09 192.37 L 174.44 190.39 L 174.80 188.47 L 175.15 186.62 L 175.50 184.82 L 175.88 182.46 L 176.26 180.54 L 176.63 179.37 L 177.01 178.84 L 177.39 178.46 L 177.77 178.28 L 178.15 178.28 L 178.52 178.33 L 178.90 178.48 L 179.28 178.78 L 179.64 180.98 L 180.00 183.04 L 180.36 184.94 L 180.72 186.65 L 181.08 188.24 L 181.44 189.71 L 181.81 191.06 L 182.17 192.28 L 182.53 193.47 L 182.89 194.43 L 183.25 195.04 L 183.61 195.54 L 183.97 195.86 L 184.33 195.90 L 184.69 195.75 L 185.05 195.53 L 185.41 195.30 L 185.77 195.15 L 186.14 195.15 L 186.50 195.38 L 186.86 195.80 L 187.22 196.38 L 187.58 197.04 L 187.94 197.79 L 188.30 198.90 L 188.66 200.35 L 189.02 202.05 L 189.38 203.93 L 189.74 206.48 L 190.10 209.22 L 190.46 211.53 L 190.83 213.73 L 191.19 215.84 L 191.55 217.86 L 191.91 219.79 L 192.27 221.62 L 192.63 223.34 L 192.99 225.16 L 193.35 227.09 L 193.71 228.93 L 194.07 230.46 L 194.43 231.50 L 194.79 231.84 L 195.16 231.45 L 195.52 230.53 L 195.88 229.24 L 196.24 227.77 L 196.60 226.27 L 196.96 224.86 L 197.32 223.35 L 197.68 221.71 L 198.04 219.95 L 198.40 218.10 L 198.76 216.17 L 199.12 214.18 L 199.49 212.11 L 199.85 209.86 L 200.21 207.49 L 200.57 205.04 L 200.93 202.55 L 201.29 200.08 L 201.65 197.67 L 202.01 195.19 L 202.37 192.62 L 202.73 190.04 L 203.09 187.54 L 203.45 185.23 L 203.81 183.18 L 204.18 181.41 L 204.54 179.63 L 204.90 177.83 L 205.26 176.10 L 205.62 174.49 L 205.98 173.08 L 206.34 171.93 L 206.70 171.11 L 207.06 170.68 L 207.42 170.75 L 207.78 171.39 L 208.14 172.49 L 208.51 173.88 L 208.87 175.44 L 209.23 177.01 L 209.59 178.53 L 209.95 180.31 L 210.31 182.30 L 210.67 184.45 L 211.03 186.66 L 211.39 188.87 L 211.75 191.00 L 212.11 192.98 L 212.47 194.74 L 212.83 196.35 L 213.20 197.88 L 213.56 199.35 L 213.92 200.76 L 214.28 202.13 L 214.64 203.47 L 215.00 204.79 L 215.36 206.07 L 215.72 207.31 L 216.08 208.52 L 216.44 209.70 L 216.80 210.88 L 217.16 212.04 L 217.53 213.21 L 217.89 214.38 L 218.25 215.57 L 218.61 216.77 L 218.97 217.98 L 219.33 219.19 L 219.69 220.39 L 220.05 221.60 L 220.41 222.80 L 220.77 224.01 L 221.13 225.21 L 221.49 226.42 L 221.85 227.62 L 222.22 228.83 L 222.58 230.09 L 222.94 231.37 L 223.30 232.66 L 223.66 233.94 L 224.02 235.20 L 224.38 236.43 L 224.74 237.59 L 225.10 238.68 L 225.46 239.68 L 225.82 240.62 L 226.18 241.61 L 226.55 242.62 L 226.91 243.61 L 227.27 244.54 L 227.63 245.37 L 227.99 246.07 L 228.35 246.59 L 228.71 246.89 L 229.07 246.95 L 229.43 246.82 L 229.79 246.54 L 230.15 246.13 L 230.51 245.61 L 230.88 245.01 L 231.24 244.34 L 231.60 243.63 L 231.96 242.88 L 232.32 242.13 L 232.68 241.39 L 233.04 240.65 L 233.40 239.81 L 233.76 238.89 L 234.12 237.90 L 234.48 236.85 L 234.84 235.76 L 235.20 234.64 L 235.57 233.51 L 235.93 232.38 L 236.29 231.26 L 236.65 230.12 L 237.01 228.94 L 237.37 227.67 L 237.73 226.30 L 238.09 224.80 L 238.45 223.08 L 238.81 221.06 L 239.17 218.83 L 239.53 216.50 L 239.90 214.14 L 240.26 211.80 L 240.62 209.38 L 240.98 206.89 L 241.34 204.36 L 241.70 201.82 L 242.06 199.29 L 242.42 196.80 L 242.78 194.33 L 243.14 191.88 L 243.50 189.43 L 243.86 186.98 L 244.22 185.32 L 244.59 183.59 L 244.95 181.84 L 245.25 180.81" clip-path="url(#p5348a36c46)" style="fill: none; stroke-dasharray: 5.550,2.400; stroke-dashoffset: 0.000; stroke: #000000; stroke-opacity: 0.5; stroke-width: 1.5"/>
<path d="M 245.26 180.80 L 245.31 180.63 L 245.67 179.59 L 246.03 178.86 L 246.39 178.54 L 246.75 178.37 L 247.11 178.37 L 247.47 178.64 L 247.83 179.17 L 248.20 181.04 L 248.42 182.23" clip-path="url(#p5348a36c46)" style="fill: none; stroke-dasharray: 5.276,2.281; stroke-dashoffset: 0.000; stroke: #000000; stroke-opacity: 0.5; stroke-width: 1.5"/>
<path d="M 248.42 182.25 L 248.56 182.99 L 248.92 184.01 L 249.28 184.80 L 249.64 185.71 L 250.00 187.13 L 250.30 189.89" clip-path="url(#p5348a36c46)" style="fill: none; stroke-dasharray: 5.541,2.396; stroke-dashoffset: 0.000; stroke: #000000; stroke-opacity: 0.5; stroke-width: 1.5"/>
<path d="M 250.31 189.90 L 250.36 190.40 L 250.72 192.20 L 251.08 193.47 L 251.44 194.70 L 251.81 196.32 L 252.13 197.62" clip-path="url(#p5348a36c46)" style="fill: none; stroke-dasharray: 5.553,2.401; stroke-dashoffset: 0.000; stroke: #000000; stroke-opacity: 0.5; stroke-width: 1.5"/>
<path d="M 252.13 197.64 L 252.17 197.76 L 252.53 198.26 L 252.89 198.58 L 253.25 198.80 L 253.61 198.92 L 253.97 198.91 L 254.33 198.75 L 254.69 198.48 L 255.05 198.18 L 255.41 197.91 L 255.78 197.74 L 256.14 197.71 L 256.50 197.74 L 256.86 197.78 L 257.22 197.83 L 257.58 197.89 L 257.94 197.97 L 258.30 198.11 L 258.66 198.29 L 259.02 198.50 L 259.39 198.74 L 259.61 198.88" clip-path="url(#p5348a36c46)" style="fill: none; stroke-dasharray: 6.053,2.617; stroke-dashoffset: 0.000; stroke: #000000; stroke-opacity: 0.5; stroke-width: 1.5"/>
<path d="M 259.62 198.89 L 259.75 198.97 L 260.11 199.20 L 260.47 199.43 L 260.83 199.67 L 261.19 199.92 L 261.55 200.18 L 261.91 200.45 L 262.27 200.73 L 262.63 201.02 L 262.99 201.32 L 263.36 201.63 L 263.72 201.94 L 264.08 202.27 L 264.44 202.63 L 264.80 203.00 L 265.16 203.39 L 265.52 203.78 L 265.78 204.07" clip-path="url(#p5348a36c46)" style="fill: none; stroke-dasharray: 5.646,2.442; stroke-dashoffset: 0.000; stroke: #000000; stroke-opacity: 0.5; stroke-width: 1.5"/>
<path d="M 265.79 204.08 L 265.88 204.19 L 266.24 204.59 L 266.60 204.99 L 266.97 205.39 L 267.33 205.78 L 267.69 206.17 L 268.05 206.56 L 268.41 206.96 L 268.77 207.35 L 269.13 207.75 L 269.49 208.14 L 269.85 208.54 L 270.21 208.94 L 270.58 209.34 L 270.94 209.74 L 271.30 208.57 L 271.66 207.25 L 272.02 205.79 L 272.38 204.19 L 272.74 202.48 L 273.10 200.67 L 273.46 198.78 L 273.82 196.74 L 274.18 194.35 L 274.54 191.69 L 274.90 188.92 L 275.26 186.16 L 275.62 183.55 L 275.98 181.22 L 276.34 179.21 L 276.70 177.38 L 277.06 175.67 L 277.42 173.98 L 277.78 172.24 L 278.14 170.35 L 278.50 168.24 L 278.86 165.64 L 279.22 162.88 L 279.58 160.56 L 279.94 158.86 L 280.30 157.40 L 280.66 155.94 L 281.02 154.46 L 281.38 153.00 L 281.74 151.51 L 282.10 149.92 L 282.46 148.47 L 282.82 147.43 L 283.18 146.59 L 283.54 146.10 L 283.90 146.25 L 284.26 146.82 L 284.62 147.60 L 284.98 148.94 L 285.34 150.88 L 285.70 152.78 L 286.06 154.59 L 286.42 156.44 L 286.78 158.29 L 287.14 160.17 L 287.50 162.00 L 287.86 163.74 L 288.22 165.43 L 288.58 167.08 L 288.94 168.70 L 289.30 170.27 L 289.66 171.80 L 290.02 173.30 L 290.38 174.79 L 290.74 176.28 L 291.10 177.80 L 291.46 179.36 L 291.82 180.96 L 292.18 182.56 L 292.54 184.16 L 292.90 185.77 L 293.26 187.43 L 293.62 189.14 L 293.98 190.93 L 294.34 192.81 L 294.70 194.81 L 295.06 197.11 L 295.42 199.70 L 295.78 202.46 L 296.14 205.27 L 296.50 208.03 L 296.86 210.61 L 297.22 212.90 L 297.58 214.78 L 297.94 216.37 L 298.30 217.86 L 298.66 219.24 L 299.02 220.49 L 299.38 221.60 L 299.74 222.56 L 300.10 223.35 L 300.46 224.06 L 300.82 224.74 L 301.18 225.38 L 301.54 225.95 L 301.90 226.46 L 302.26 226.87 L 302.62 227.18 L 302.98 227.38 L 303.34 227.50 L 303.70 227.59 L 304.06 227.67 L 304.42 227.74 L 304.78 227.80 L 305.14 227.86 L 305.50 227.92 L 305.86 227.99 L 306.22 228.07 L 306.58 228.15 L 306.94 228.23 L 307.30 228.30 L 307.66 228.38 L 308.02 228.46 L 308.38 228.55 L 308.74 228.65 L 309.10 228.77 L 309.46 228.90 L 309.82 229.07 L 310.18 229.34 L 310.54 229.69 L 310.90 230.11 L 311.26 230.56 L 311.62 231.04 L 311.98 231.50 L 312.34 231.95 L 312.70 232.34 L 313.06 232.67 L 313.42 232.92 L 313.78 233.14 L 314.14 233.34 L 314.50 233.52 L 314.86 233.70 L 315.22 233.86 L 315.58 234.02 L 315.94 234.18 L 316.30 234.34 L 316.66 234.51 L 317.02 234.69 L 317.38 234.90 L 317.74 235.12 L 318.10 235.35 L 318.46 235.56 L 318.82 235.75 L 319.18 235.90 L 319.54 235.99 L 319.90 236.01 L 320.26 235.97 L 320.62 235.86 L 320.98 235.70 L 321.34 235.51 L 321.70 235.29 L 322.06 235.05 L 322.42 234.81 L 322.78 234.58 L 323.14 234.29 L 323.50 233.92 L 323.86 233.50 L 324.22 233.06 L 324.58 232.64 L 324.94 232.27 L 325.30 232.00 L 325.66 231.85 L 326.02 231.87 L 326.38 232.03 L 326.74 232.28 L 327.10 232.58 L 327.46 232.85 L 327.82 233.06 L 328.18 233.14 L 328.54 232.99 L 328.90 232.60 L 329.26 232.00 L 329.62 231.26 L 329.98 230.40 L 330.34 229.00 L 330.70 226.78 L 331.06 224.07 L 331.42 221.16 L 331.78 218.38 L 332.14 215.70 L 332.50 212.92 L 332.86 210.03 L 333.22 207.05 L 333.58 203.98 L 333.93 201.36 L 334.29 199.35 L 334.65 197.61 L 335.00 195.60 L 335.27 193.94" clip-path="url(#p5348a36c46)" style="fill: none; stroke-dasharray: 5.465,2.363; stroke-dashoffset: 0.000; stroke: #000000; stroke-opacity: 0.5; stroke-width: 1.5"/>
<path d="M 335.27 193.93 L 335.36 193.41 L 335.72 191.05 L 336.07 188.49 L 336.35 186.02" clip-path="url(#p5348a36c46)" style="fill: none; stroke-dasharray: 5.584,2.415; stroke-dashoffset: 0.000; stroke: #000000; stroke-opacity: 0.5; stroke-width: 1.5"/>
<path d="M 336.35 186.00 L 336.43 185.30 L 336.79 182.13 L 337.14 179.92 L 337.50 178.43 L 337.85 177.75 L 338.12 177.70" clip-path="url(#p5348a36c46)" style="fill: none; stroke-dasharray: 6.090,2.633; stroke-dashoffset: 0.000; stroke: #000000; stroke-opacity: 0.5; stroke-width: 1.5"/>
<path d="M 338.14 177.70 L 338.21 177.69 L 338.57 178.13 L 338.92 178.82 L 339.28 180.05 L 339.64 181.82 L 339.99 183.70 L 340.35 185.76 L 340.71 188.06 L 341.06 190.58 L 341.42 193.09 L 341.78 195.51 L 342.14 197.81 L 342.50 199.97 L 342.86 201.98 L 343.22 203.91 L 343.58 205.76 L 343.94 207.54 L 344.30 209.24 L 344.66 210.86 L 345.02 212.40 L 345.38 213.96 L 345.74 215.54 L 346.10 217.01 L 346.46 218.21 L 346.82 219.02 L 347.18 219.57 L 347.54 220.07 L 347.90 220.46 L 348.26 220.73 L 348.62 220.82 L 348.98 220.73 L 349.34 220.46 L 349.70 220.06 L 350.06 219.57 L 350.42 219.02 L 350.78 218.24 L 351.14 217.06 L 351.50 215.62 L 351.86 214.03 L 352.22 212.40 L 352.58 210.86 L 352.94 209.50 L 353.30 208.20 L 353.66 206.91 L 354.02 205.63 L 354.38 204.37 L 354.74 203.11 L 355.10 201.85 L 355.46 200.61 L 355.82 199.41 L 356.18 198.23 L 356.54 197.04 L 356.90 195.82 L 357.26 194.54 L 357.62 193.18 L 357.98 191.63 L 358.34 189.89 L 358.70 188.06 L 359.06 186.25 L 359.42 184.56 L 359.78 183.10 L 360.14 181.94 L 360.50 180.81 L 360.86 179.71 L 361.22 178.67 L 361.58 177.76 L 361.94 177.04 L 362.30 176.57 L 362.66 176.40 L 363.02 176.54 L 363.38 176.91 L 363.74 177.48 L 364.10 178.20 L 364.46 179.01 L 364.82 179.87 L 365.18 180.73 L 365.54 181.56 L 365.90 182.49 L 366.26 183.54 L 366.62 184.66 L 366.98 185.83 L 367.34 187.02 L 367.70 188.19 L 368.06 189.39 L 368.42 190.70 L 368.78 192.08 L 369.14 193.48 L 369.50 194.84 L 369.86 196.11 L 370.22 197.23 L 370.58 198.14 L 370.94 198.82 L 371.30 199.39 L 371.66 199.89 L 372.02 200.34 L 372.38 200.74 L 372.74 201.12 L 373.10 201.48 L 373.46 201.83 L 373.82 202.19 L 374.18 202.58 L 374.54 202.99 L 374.90 203.41 L 375.26 203.81 L 375.62 204.22 L 375.98 204.63 L 376.34 205.03 L 376.70 205.44 L 377.06 205.86 L 377.42 206.29 L 377.78 206.73 L 378.14 207.18 L 378.50 207.62 L 378.86 208.06 L 379.22 208.50 L 379.58 208.95 L 379.94 209.44 L 380.30 209.96 L 380.66 210.54 L 381.02 211.18 L 381.38 211.93 L 381.74 212.84 L 382.10 213.85 L 382.46 214.95 L 382.82 216.08 L 383.18 217.23 L 383.54 218.34 L 383.90 219.40 L 384.26 220.40 L 384.62 221.39 L 384.98 222.39 L 385.34 223.39 L 385.70 224.37 L 386.06 225.34 L 386.42 226.29 L 386.78 227.23 L 387.14 228.13 L 387.50 229.01 L 387.86 229.88 L 388.22 230.80 L 388.58 231.75 L 388.94 232.69 L 389.30 233.59 L 389.66 234.42 L 390.02 235.15 L 390.38 235.76 L 390.74 236.20 L 391.10 236.47 L 391.46 236.67 L 391.82 236.84 L 392.18 236.98 L 392.54 237.11 L 392.90 237.22 L 393.26 237.33 L 393.62 237.43 L 393.98 237.54 L 394.34 237.65 L 394.70 237.79 L 395.06 237.94 L 395.42 238.13 L 395.44 238.14" clip-path="url(#p5348a36c46)" style="fill: none; stroke-dasharray: 5.466,2.364; stroke-dashoffset: 0.000; stroke: #000000; stroke-opacity: 0.5; stroke-width: 1.5"/>
<path d="M 395.45 238.14 L 395.78 238.33 L 396.14 238.54 L 396.50 238.75 L 396.86 238.95 L 397.22 239.12 L 397.58 239.26 L 397.94 239.36 L 398.30 239.40 L 398.66 239.40 L 399.02 239.39 L 399.38 239.36 L 399.74 239.32 L 400.10 239.25 L 400.46 239.16 L 400.82 239.04 L 402.91 239.04" clip-path="url(#p5348a36c46)" style="fill: none; stroke-dasharray: 5.550,2.400; stroke-dashoffset: 0.000; stroke: #000000; stroke-opacity: 0.5; stroke-width: 1.5"/>
   </g>
   <g id="line2d_28">
    <path d="M 85.032 238.248 L 105.173589 238.138752 L 126.394191 237.754695 L 127.113533 237.383556 L 128.192548 236.483074 L 129.631233 234.884339 L 132.148931 232.031271 L 135.745643 228.426611 L 137.184328 226.535914 L 138.263342 224.762025 L 139.702027 221.892355 L 141.140712 218.396567 L 142.219726 214.928406 L 147.255123 197.162242 L 152.650191 180.368948 L 154.808218 174.941777 L 155.527561 173.478396 L 155.887232 172.982783 L 156.246903 172.702618 L 156.606575 172.69302 L 156.966246 173.055516 L 157.325917 173.742887 L 158.04526 175.787126 L 159.124273 179.628394 L 159.843616 183.38923 L 161.641972 194.807622 L 162.720986 202.91634 L 163.8 212.94 L 170.567999 215.064 L 172.681714 200.906982 L 174.443142 190.386702 L 175.499999 184.824 L 179.28 178.776 L 180.362413 184.942353 L 181.444826 189.709127 L 182.527239 193.467501 L 182.888044 194.434965 L 183.609653 195.537909 L 183.970458 195.856376 L 184.331262 195.895338 L 185.052871 195.531261 L 185.77448 195.147558 L 186.135284 195.145715 L 186.496089 195.376163 L 187.217698 196.375064 L 187.939307 197.791506 L 188.660916 200.353426 L 189.382524 203.931001 L 190.825742 213.727579 L 192.26896 221.618454 L 194.433787 231.502223 L 194.794592 231.83673 L 195.155396 231.446701 L 195.516201 230.525487 L 196.598614 226.269265 L 197.681027 221.710138 L 199.124245 214.181982 L 200.206658 207.489289 L 203.814703 183.179621 L 205.97953 173.079491 L 206.701139 171.108576 L 207.061944 170.683994 L 207.422748 170.747652 L 207.783552 171.390457 L 208.505161 173.88471 L 209.94838 180.30688 L 211.391597 188.871736 L 212.47401 194.741392 L 213.917229 200.759566 L 215.721251 207.306025 L 225.462971 239.683573 L 227.988603 246.068736 L 228.349407 246.589201 L 228.710212 246.894822 L 229.071016 246.951869 L 229.431821 246.818866 L 230.15343 246.130314 L 230.875039 245.012315 L 232.318256 242.130931 L 233.40067 239.810928 L 234.483084 236.846593 L 237.008715 228.935264 L 238.091128 224.800178 L 238.812737 221.062514 L 240.616759 209.380888 L 243.864 186.984 L 270.935999 209.736 L 271.656 207.25048 L 272.736 202.48388 L 273.816 196.742467 L 274.896 188.920383 L 275.976 181.224 L 277.055999 175.668426 L 278.135999 170.354551 L 278.855999 165.637842 L 279.576 160.56 L 280.656 155.939958 L 282.816 147.426786 L 283.176 146.587899 L 283.535999 146.104708 L 283.895999 146.253506 L 284.256 146.819367 L 284.615999 147.6 L 284.976 148.938849 L 287.495999 162 L 289.296 170.271232 L 293.256 187.430718 L 294.696 194.814493 L 295.415999 199.697857 L 297.216 212.896656 L 297.935999 216.367675 L 299.015999 220.4926 L 299.736 222.558055 L 300.816 224.743825 L 301.895999 226.455001 L 302.616 227.179529 L 303.335999 227.496814 L 304.776 227.799933 L 307.655999 228.377324 L 309.455999 228.901506 L 310.176 229.33892 L 310.895999 230.106355 L 313.055999 232.670306 L 314.135999 233.338255 L 316.296 234.339566 L 317.735999 235.122001 L 319.176 235.899154 L 319.895999 236.014557 L 320.615999 235.859094 L 321.696 235.28816 L 323.135999 234.292025 L 324.215999 233.055501 L 324.935999 232.270782 L 325.656 231.853887 L 326.015999 231.870185 L 326.736 232.284911 L 327.816 233.05576 L 328.176 233.136 L 328.535999 232.994102 L 328.896 232.600865 L 329.615999 231.255127 L 329.976 230.4 L 330.335999 228.998287 L 331.056 224.067656 L 333.576 203.976 L 334.44 201.024 L 341.064 190.584 L 342.503999 199.965774 L 343.944 207.538998 L 345.743999 215.542608 L 346.463999 218.213369 L 347.184 219.573538 L 347.903999 220.462154 L 348.263999 220.727385 L 348.624 220.824 L 348.983999 220.725563 L 349.704 220.057033 L 350.424 219.024 L 350.783999 218.236894 L 351.504 215.621526 L 352.944 209.498129 L 355.823999 199.412382 L 357.624 193.176 L 358.704 188.060459 L 359.783999 183.097304 L 361.223999 178.669301 L 361.943999 177.044268 L 362.303999 176.570685 L 362.664 176.4 L 363.023999 176.536301 L 363.383999 176.913215 L 364.104 178.196942 L 365.904 182.492497 L 366.984 185.833174 L 368.783999 192.083456 L 369.863999 196.105924 L 370.584 198.143741 L 371.304 199.391577 L 372.384 200.742557 L 375.984 204.625752 L 378.503999 207.621285 L 380.303999 209.964627 L 381.023999 211.176 L 381.743999 212.83609 L 383.183999 217.227151 L 384.624 221.394326 L 387.144 228.131139 L 390.383999 235.755495 L 391.104 236.466555 L 392.184 236.984123 L 395.783999 238.331471 L 397.583999 239.258993 L 398.303999 239.398698 L 399.743999 239.318121 L 400.823999 239.04 L 400.823999 239.04 
" clip-path="url(#p5348a36c46)" style="fill: none; stroke: #4c72b0; stroke-opacity: 0.75; stroke-width: 1.5; stroke-linecap: round"/>
   </g>
   <g id="patch_9">
    <path d="M 69.12 252 L 69.12 141.12 
" style="fill: none; stroke: #ffffff; stroke-width: 1.44; stroke-linejoin: miter; stroke-linecap: square"/>
   </g>
   <g id="patch_10">
    <path d="M 419.04 252 L 419.04 141.12 
" style="fill: none; stroke: #ffffff; stroke-width: 1.44; stroke-linejoin: miter; stroke-linecap: square"/>
   </g>
   <g id="patch_11">
    <path d="M 69.119999 252 L 419.039999 252 
" style="fill: none; stroke: #ffffff; stroke-width: 1.44; stroke-linejoin: miter; stroke-linecap: square"/>
   </g>
   <g id="patch_12">
    <path d="M 69.119999 141.12 L 419.039999 141.12 
" style="fill: none; stroke: #ffffff; stroke-width: 1.44; stroke-linejoin: miter; stroke-linecap: square"/>
   </g>
  </g>
  <g id="axes_3">
   <g id="patch_13">
    <path d="M 69.12 380.16 L 419.04 380.16 L 419.04 269.28 L 69.12 269.28 z
" style="fill: #eaeaf2"/>
   </g>
   <g id="matplotlib.axis_5">
    <g id="xtick_15">
     <g id="line2d_29">
      <path d="M 102.600 380.160 L 102.600 269.280" clip-path="url(#pd036d573c9)" style="fill: none; stroke: #ffffff; stroke-linecap: round"/>
     </g>
     <g id="text_13" transform="translate(-0.111 -0.012)">
      <text style="font-size: 11px; font-family: 'DejaVu Sans', 'Liberation Sans', sans-serif; text-anchor: middle; fill: #262626" x="101.987999" y="398.018281">140</text>
     </g>
    </g>
    <g id="xtick_16">
     <g id="line2d_30">
      <path d="M 150.840 380.160 L 150.840 269.280" clip-path="url(#pd036d573c9)" style="fill: none; stroke: #ffffff; stroke-linecap: round"/>
     </g>
     <g id="text_14" transform="translate(-0.240 -0.076)">
      <text style="font-size: 11px; font-family: 'DejaVu Sans', 'Liberation Sans', sans-serif; text-anchor: middle; fill: #262626" x="150.408" y="398.018281">160</text>
     </g>
    </g>
    <g id="xtick_17">
     <g id="line2d_31">
      <path d="M 199.080 380.160 L 199.080 269.280" clip-path="url(#pd036d573c9)" style="fill: none; stroke: #ffffff; stroke-linecap: round"/>
     </g>
     <g id="text_15" transform="translate(-0.312 -0.017)">
      <text style="font-size: 11px; font-family: 'DejaVu Sans', 'Liberation Sans', sans-serif; text-anchor: middle; fill: #262626" x="198.828" y="398.018281">180</text>
     </g>
    </g>
    <g id="xtick_18">
     <g id="line2d_32">
      <path d="M 247.320 380.160 L 247.320 269.280" clip-path="url(#pd036d573c9)" style="fill: none; stroke: #ffffff; stroke-linecap: round"/>
     </g>
     <g id="text_16" transform="translate(-0.597 -0.064)">
      <text style="font-size: 11px; font-family: 'DejaVu Sans', 'Liberation Sans', sans-serif; text-anchor: middle; fill: #262626" x="247.248" y="398.018281">200</text>
     </g>
    </g>
    <g id="xtick_19">
     <g id="line2d_33">
      <path d="M 296.280 380.160 L 296.280 269.280" clip-path="url(#pd036d573c9)" style="fill: none; stroke: #ffffff; stroke-linecap: round"/>
     </g>
     <g id="text_17" transform="translate(-0.649 -0.016)">
      <text style="font-size: 11px; font-family: 'DejaVu Sans', 'Liberation Sans', sans-serif; text-anchor: middle; fill: #262626" x="295.667999" y="398.018281">220</text>
     </g>
    </g>
    <g id="xtick_20">
     <g id="line2d_34">
      <path d="M 344.520 380.160 L 344.520 269.280" clip-path="url(#pd036d573c9)" style="fill: none; stroke: #ffffff; stroke-linecap: round"/>
     </g>
     <g id="text_18" transform="translate(-0.133 -0.020)">
      <text style="font-size: 11px; font-family: 'DejaVu Sans', 'Liberation Sans', sans-serif; text-anchor: middle; fill: #262626" x="344.087999" y="398.018281">240</text>
     </g>
    </g>
    <g id="xtick_21">
     <g id="line2d_35">
      <path d="M 392.760 380.160 L 392.760 269.280" clip-path="url(#pd036d573c9)" style="fill: none; stroke: #ffffff; stroke-linecap: round"/>
     </g>
     <g id="text_19" transform="translate(-0.435 -0.059)">
      <text style="font-size: 11px; font-family: 'DejaVu Sans', 'Liberation Sans', sans-serif; text-anchor: middle; fill: #262626" x="392.507999" y="398.018281">260</text>
     </g>
    </g>
    <g id="text_20" transform="translate(0.013 3.040)">
     <g style="fill: #262626" transform="translate(231.96 413.424062)">
      <text x="0" y="-0.890625" style="font-size: 12px; font-family: 'DejaVu Sans', 'Liberation Sans', sans-serif; fill: #262626"><tspan style="font-style: oblique">t</tspan> (s)</text>
     </g>
    </g>
    <g id="text_21" transform="translate(-0.400 0.707)">
     <text style="font-size: 11px; font-family: 'DejaVu Sans', 'Liberation Sans', sans-serif; text-anchor: end; fill: #262626" x="419.04" y="411.664219">+1.403637e9</text>
    </g>
   </g>
   <g id="matplotlib.axis_6">
    <g id="ytick_9">
     <g id="line2d_36">
      <path d="M 69.120 360.360 L 419.040 360.360" clip-path="url(#pd036d573c9)" style="fill: none; stroke: #ffffff; stroke-linecap: round"/>
     </g>
     <g id="text_22" transform="translate(-0.508 -0.050)">
      <text style="font-size: 11px; font-family: 'DejaVu Sans', 'Liberation Sans', sans-serif; text-anchor: end; fill: #262626" x="59.62" y="364.467141">−0.5</text>
     </g>
    </g>
    <g id="ytick_10">
     <g id="line2d_37">
      <path d="M 69.120 335.160 L 419.040 335.160" clip-path="url(#pd036d573c9)" style="fill: none; stroke: #ffffff; stroke-linecap: round"/>
     </g>
     <g id="text_23" transform="translate(-0.387 -0.083)">
      <text style="font-size: 11px; font-family: 'DejaVu Sans', 'Liberation Sans', sans-serif; text-anchor: end; fill: #262626" x="59.62" y="338.979141">0.0</text>
     </g>
    </g>
    <g id="ytick_11">
     <g id="line2d_38">
      <path d="M 69.120 309.960 L 419.040 309.960" clip-path="url(#pd036d573c9)" style="fill: none; stroke: #ffffff; stroke-linecap: round"/>
     </g>
     <g id="text_24" transform="translate(-0.354 0.621)">
      <text style="font-size: 11px; font-family: 'DejaVu Sans', 'Liberation Sans', sans-serif; text-anchor: end; fill: #262626" x="59.62" y="313.491141">0.5</text>
     </g>
    </g>
    <g id="ytick_12">
     <g id="line2d_39">
      <path d="M 69.120 284.040 L 419.040 284.040" clip-path="url(#pd036d573c9)" style="fill: none; stroke: #ffffff; stroke-linecap: round"/>
     </g>
     <g id="text_25" transform="translate(-0.200 -0.021)">
      <text style="font-size: 11px; font-family: 'DejaVu Sans', 'Liberation Sans', sans-serif; text-anchor: end; fill: #262626" x="59.62" y="288.003141">1.0</text>
     </g>
    </g>
    <g id="text_26" transform="translate(-0.861 0.474)">
     <g style="fill: #262626" transform="translate(26.413281 340.32) rotate(-90)">
      <text x="0" y="-0.890625" style="font-size: 12px; font-family: 'DejaVu Sans', 'Liberation Sans', sans-serif; fill: #262626"><tspan style="font-style: oblique">z</tspan> (m)</text>
     </g>
    </g>
   </g>
   <g id="line2d_40">
    <path d="M 85.03 305.28 L 85.39 303.28 L 85.75 301.23 L 86.11 299.12 L 86.47 296.96 L 86.83 294.74 L 87.19 291.88 L 87.55 288.84 L 87.91 286.54 L 88.27 285.92 L 88.63 288.27 L 88.99 292.28 L 89.35 295.80 L 89.71 299.38 L 90.07 302.08 L 90.43 301.12 L 90.79 295.48 L 91.15 289.99 L 91.51 284.74 L 91.87 281.29 L 92.23 283.06 L 92.59 288.46 L 92.95 293.51 L 93.31 298.90 L 93.67 300.82 L 94.03 296.64 L 94.39 290.93 L 94.75 285.41 L 95.11 281.33 L 95.47 283.08 L 95.83 288.50 L 96.19 293.37 L 96.55 298.37 L 96.91 300.96 L 97.27 298.28 L 97.63 292.89 L 97.99 287.91 L 98.35 282.52 L 98.71 280.66 L 99.07 285.21 L 99.43 291.86 L 99.79 297.97 L 100.15 302.24 L 100.50 303.68 L 100.86 304.52 L 101.22 304.99 L 101.58 305.17 L 101.94 305.29 L 102.30 305.37 L 102.66 305.43 L 103.02 305.48 L 103.38 305.53 L 103.74 305.56 L 104.10 305.57 L 104.46 305.57 L 104.82 305.57 L 105.18 305.57 L 105.54 305.57 L 105.90 305.57 L 106.26 305.57 L 106.58 305.57" clip-path="url(#pd036d573c9)" style="fill: none; stroke-dasharray: 5.550,2.400; stroke-dashoffset: 0.724; stroke: #000000; stroke-opacity: 0.5; stroke-width: 1.5"/>
<path d="M 106.59 305.57 L 106.62 305.57 L 106.98 305.57 L 107.34 305.57 L 107.70 305.57 L 108.06 305.57 L 108.42 305.57 L 108.78 305.57 L 109.14 305.57 L 109.50 305.57 L 109.86 305.57 L 110.22 305.57 L 110.58 305.57 L 110.94 305.57 L 111.30 305.57 L 111.66 305.57 L 112.02 305.57 L 112.38 305.57 L 112.74 305.57 L 113.10 305.57 L 113.46 305.57 L 113.82 305.57 L 114.18 305.57 L 114.54 305.57 L 114.64 305.57" clip-path="url(#pd036d573c9)" style="fill: none; stroke-dasharray: 5.629,2.434; stroke-dashoffset: 0.000; stroke: #000000; stroke-opacity: 0.5; stroke-width: 1.5"/>
<path d="M 114.66 305.57 L 114.90 305.57 L 115.26 305.57 L 115.62 305.57 L 115.98 305.57 L 116.34 305.57 L 116.70 305.58 L 117.06 305.58 L 117.42 305.58 L 117.78 305.59 L 118.14 305.59 L 118.50 305.60 L 118.86 305.61 L 119.22 305.61 L 119.58 305.62 L 119.94 305.63 L 120.30 305.63 L 120.66 305.64 L 121.02 305.65 L 121.38 305.66 L 121.74 305.66 L 122.10 305.67 L 122.46 305.68 L 122.81 305.68 L 123.17 305.69 L 123.53 305.69 L 123.89 305.70 L 124.25 305.70 L 124.61 305.71 L 124.97 305.71 L 125.33 305.71 L 125.69 305.71 L 126.05 305.70 L 126.41 305.08 L 126.77 303.69 L 127.13 301.80 L 127.49 299.66 L 127.85 297.53 L 128.21 295.67 L 128.57 293.79 L 128.93 291.77 L 129.29 289.73 L 129.65 287.83 L 130.01 286.20 L 130.37 284.97 L 130.73 284.01 L 131.09 283.18 L 131.45 282.44 L 131.81 281.77 L 132.17 281.15 L 132.53 280.54 L 132.89 279.92 L 133.25 279.26 L 133.61 278.51 L 133.97 277.69 L 134.33 276.85 L 134.69 276.07 L 135.05 275.40 L 135.41 274.92 L 135.77 274.69 L 136.13 274.72 L 136.49 274.86 L 136.85 275.06 L 137.21 275.29 L 137.57 275.50 L 137.93 275.67 L 138.29 275.83 L 138.65 276.01 L 138.71 276.05" clip-path="url(#pd036d573c9)" style="fill: none; stroke-dasharray: 5.538,2.395; stroke-dashoffset: 0.000; stroke: #000000; stroke-opacity: 0.5; stroke-width: 1.5"/>
<path d="M 138.72 276.06 L 139.01 276.24 L 139.37 276.52 L 139.73 276.96 L 140.09 277.56 L 140.45 278.32 L 140.81 279.21 L 141.17 280.22 L 141.53 281.62 L 141.89 283.41 L 142.25 285.38 L 142.61 287.85 L 142.97 290.50 L 143.33 292.52 L 143.69 294.15 L 144.05 295.63 L 144.41 296.67 L 144.76 297.00 L 145.12 297.00 L 145.48 297.00 L 145.84 296.99 L 146.20 296.63 L 146.56 295.88 L 146.92 295.03 L 147.28 294.36 L 147.64 294.13 L 148.00 295.10 L 148.36 296.81 L 148.72 298.20 L 149.08 299.07 L 149.44 299.79 L 149.80 300.47 L 150.16 301.22 L 150.52 302.17 L 150.88 303.65 L 151.24 305.59 L 151.60 307.66 L 151.96 309.52 L 152.32 310.83 L 152.68 311.24 L 153.04 310.05 L 153.40 307.63 L 153.76 304.95 L 154.12 302.95 L 154.48 301.37 L 154.84 299.82 L 155.20 298.56 L 155.56 297.82 L 155.92 297.80 L 156.28 298.27 L 156.64 298.86 L 157.00 299.50 L 157.36 300.24 L 157.72 301.05 L 158.08 302.15 L 158.44 303.48 L 158.80 304.75 L 159.16 305.68 L 159.52 305.99 L 159.88 305.29 L 160.24 303.83 L 160.60 302.17 L 160.96 300.85 L 161.32 299.68 L 161.68 298.52 L 162.04 297.66 L 162.40 297.36 L 162.76 297.69 L 163.12 298.33 L 163.48 298.93 L 163.84 299.16 L 164.20 298.94 L 164.56 298.60 L 164.92 298.45 L 165.28 299.19 L 165.64 300.75 L 166.00 302.53 L 166.36 303.95 L 166.72 305.02 L 167.07 306.01 L 167.43 306.94 L 167.79 307.84 L 168.15 308.75 L 168.51 309.69 L 168.87 310.55 L 169.23 311.30 L 169.59 312.07 L 169.95 312.96 L 170.31 314.07 L 170.67 315.52 L 171.03 318.53 L 171.39 322.39 L 171.75 325.28 L 172.11 327.69 L 172.47 329.85 L 172.83 331.76 L 173.19 333.41 L 173.55 334.80 L 173.91 336.04 L 174.27 337.27 L 174.63 338.60 L 174.99 340.08 L 175.35 341.63 L 175.71 343.27 L 176.07 345.04 L 176.43 346.99 L 176.79 348.98 L 177.15 351.19 L 177.51 352.71 L 177.87 353.22 L 178.23 353.56 L 178.59 353.66 L 178.95 353.62 L 179.31 353.52 L 179.67 353.36 L 180.03 352.92 L 180.39 351.62 L 180.75 349.91 L 181.11 348.28 L 181.47 347.21 L 181.83 347.12 L 182.19 347.69 L 182.55 348.65 L 182.91 349.81 L 183.27 351.13 L 183.63 353.32 L 183.99 355.70 L 184.35 357.35 L 184.71 357.44 L 185.07 356.09 L 185.43 353.87 L 185.79 351.33 L 186.15 349.01 L 186.51 347.47 L 186.87 346.48 L 187.23 345.61 L 187.59 344.84 L 187.95 344.16 L 188.31 343.55 L 188.67 343.00 L 189.02 342.47 L 189.38 341.92 L 189.74 341.41 L 190.10 341.00 L 190.46 340.79 L 190.82 340.91 L 191.18 341.51 L 191.54 342.47 L 191.90 343.60 L 192.26 344.74 L 192.62 346.11 L 192.98 347.82 L 193.34 349.67 L 193.70 351.43 L 194.06 352.91 L 194.42 354.04 L 194.78 355.16 L 195.14 356.19 L 195.50 357.00 L 195.86 357.48 L 196.22 357.53 L 196.58 357.40 L 196.94 357.28 L 197.30 357.26 L 197.66 357.26 L 198.02 357.27 L 198.38 359.08 L 198.74 361.16 L 199.10 362.94 L 199.46 366.79 L 199.82 372.38 L 199.99 373.57" clip-path="url(#pd036d573c9)" style="fill: none; stroke-dasharray: 5.471,2.366; stroke-dashoffset: 0.000; stroke: #000000; stroke-opacity: 0.5; stroke-width: 1.5"/>
<path d="M 199.99 373.58 L 200.18 374.87 L 200.54 375.31 L 200.90 374.81 L 201.26 373.99 L 201.62 372.61 L 201.98 369.97 L 202.34 365.68 L 202.70 361.52 L 203.06 357.42 L 203.42 353.23 L 203.78 349.15 L 204.14 345.42 L 204.50 341.85 L 204.86 338.38 L 205.22 335.40 L 205.58 333.28 L 205.94 331.69 L 206.30 330.45 L 206.66 329.98 L 207.02 330.36 L 207.38 331.32 L 207.74 332.68 L 208.10 334.26 L 208.46 335.88 L 208.82 337.36 L 209.18 338.69 L 209.54 340.26 L 209.90 341.89 L 210.26 343.40 L 210.62 344.57 L 210.97 345.19 L 211.33 344.94 L 211.69 343.51 L 212.05 341.34 L 212.41 338.94 L 212.77 336.70 L 213.13 334.18 L 213.49 331.42 L 213.85 328.62 L 214.21 325.97 L 214.57 323.46 L 214.93 320.65 L 215.29 317.80 L 215.65 315.23 L 216.01 313.26 L 216.37 312.21 L 216.73 312.43 L 217.09 313.79 L 217.45 315.41 L 217.81 317.08 L 218.17 318.96 L 218.53 320.82 L 218.89 322.57 L 219.25 324.30 L 219.61 326.01 L 219.97 327.73 L 220.33 329.47 L 220.69 331.25 L 221.05 333.36 L 221.41 335.80 L 221.77 338.21 L 222.13 340.20 L 222.49 341.43 L 222.85 341.50 L 223.21 340.26 L 223.57 338.28 L 223.93 336.24 L 224.29 334.78 L 224.65 333.78 L 225.01 332.85 L 225.37 332.17 L 225.73 331.92 L 226.09 332.21 L 226.45 332.83 L 226.81 333.45 L 227.17 333.72 L 227.53 332.92 L 227.89 330.98 L 228.25 328.51 L 228.61 326.12 L 228.97 323.79 L 229.33 321.24 L 229.69 318.55 L 230.05 315.83 L 230.41 313.15 L 230.77 310.41 L 231.13 307.65 L 231.49 305.25 L 231.85 303.26 L 232.21 301.55 L 232.57 300.09 L 232.93 298.79 L 233.28 297.62 L 233.64 296.54 L 234.00 295.45 L 234.36 294.27 L 234.72 293.42 L 235.08 293.29 L 235.44 293.59 L 235.80 294.04 L 236.16 294.45 L 236.52 294.62 L 236.88 294.09 L 237.24 292.90 L 237.60 291.60 L 237.96 290.75 L 238.32 290.92 L 238.68 291.70 L 239.04 292.59 L 239.40 293.69 L 239.76 294.99 L 240.12 296.87 L 240.48 298.97 L 240.84 300.60 L 241.20 299.32 L 241.56 297.20 L 241.84 295.29" clip-path="url(#pd036d573c9)" style="fill: none; stroke-dasharray: 5.470,2.365; stroke-dashoffset: 0.000; stroke: #000000; stroke-opacity: 0.5; stroke-width: 1.5"/>
<path d="M 241.84 295.27 L 241.92 294.69 L 242.28 292.80 L 242.64 290.37 L 242.85 287.53" clip-path="url(#pd036d573c9)" style="fill: none; stroke-dasharray: 5.466,2.364; stroke-dashoffset: 0.000; stroke: #000000; stroke-opacity: 0.5; stroke-width: 1.5"/>
<path d="M 242.85 287.52 L 243.00 285.53 L 243.36 282.45 L 243.72 279.36 L 244.08 277.21 L 244.44 276.99 L 244.80 277.36 L 245.16 277.78 L 245.52 278.06 L 245.88 278.34 L 246.24 278.78 L 246.60 279.93 L 246.96 282.95 L 247.19 285.74" clip-path="url(#pd036d573c9)" style="fill: none; stroke-dasharray: 4.749,2.054; stroke-dashoffset: 0.000; stroke: #000000; stroke-opacity: 0.5; stroke-width: 1.5"/>
<path d="M 247.19 285.75 L 247.32 287.25 L 247.68 289.37 L 248.04 292.31 L 248.16 293.72" clip-path="url(#pd036d573c9)" style="fill: none; stroke-dasharray: 5.614,2.428; stroke-dashoffset: 0.000; stroke: #000000; stroke-opacity: 0.5; stroke-width: 1.5"/>
<path d="M 248.16 293.73 L 248.40 296.47 L 248.76 300.77 L 249.07 303.03" clip-path="url(#pd036d573c9)" style="fill: none; stroke-dasharray: 6.532,2.825; stroke-dashoffset: 0.000; stroke: #000000; stroke-opacity: 0.5; stroke-width: 1.5"/>
<path d="M 249.07 303.04 L 249.12 303.35 L 249.48 304.84 L 249.84 305.42 L 250.20 304.86 L 250.56 303.91 L 250.92 303.58 L 251.28 303.51 L 251.64 303.48 L 252.00 303.69 L 252.29 303.95" clip-path="url(#pd036d573c9)" style="fill: none; stroke-dasharray: 4.363,1.887; stroke-dashoffset: 0.000; stroke: #000000; stroke-opacity: 0.5; stroke-width: 1.5"/>
<path d="M 252.30 303.96 L 252.36 304.01 L 252.72 303.98 L 253.08 303.59 L 253.44 303.01 L 253.80 302.31 L 254.16 301.15 L 254.52 300.02 L 254.88 299.44 L 255.23 299.26 L 255.59 300.27 L 255.95 301.96 L 256.31 303.64" clip-path="url(#pd036d573c9)" style="fill: none; stroke-dasharray: 7.299,3.156; stroke-dashoffset: 0.000; stroke: #000000; stroke-opacity: 0.5; stroke-width: 1.5"/>
<path d="M 256.31 303.66 L 256.31 303.69 L 256.67 305.83 L 257.03 306.94 L 257.39 306.48 L 257.75 305.65 L 257.87 305.33" clip-path="url(#pd036d573c9)" style="fill: none; stroke-dasharray: 3.632,1.571; stroke-dashoffset: 0.000; stroke: #000000; stroke-opacity: 0.5; stroke-width: 1.5"/>
<path d="M 257.88 305.32 L 258.11 304.69 L 258.47 304.06 L 258.83 304.13 L 259.19 304.32 L 259.55 304.55 L 259.91 304.77 L 260.27 304.95 L 260.63 305.13 L 260.99 305.41 L 261.35 305.93 L 261.71 306.35 L 262.07 306.57 L 262.14 306.59" clip-path="url(#pd036d573c9)" style="fill: none; stroke-dasharray: 4.171,1.804; stroke-dashoffset: 0.000; stroke: #000000; stroke-opacity: 0.5; stroke-width: 1.5"/>
<path d="M 262.15 306.60 L 262.43 306.70 L 262.79 306.40 L 263.15 305.07 L 263.51 303.92 L 263.87 302.76 L 264.23 302.18 L 264.59 302.43 L 264.66 302.53" clip-path="url(#pd036d573c9)" style="fill: none; stroke-dasharray: 4.066,1.758; stroke-dashoffset: 0.000; stroke: #000000; stroke-opacity: 0.5; stroke-width: 1.5"/>
<path d="M 264.67 302.54 L 264.95 302.91 L 265.31 303.20 L 265.67 303.40 L 266.03 303.56 L 266.39 303.62 L 266.75 302.26 L 267.11 299.80 L 267.47 297.15 L 267.83 295.42 L 268.19 295.58 L 268.55 296.02 L 268.91 296.60 L 269.27 297.42 L 269.63 298.07 L 269.99 297.68 L 270.35 296.92 L 270.71 296.03 L 271.07 295.30 L 271.43 294.98 L 271.79 295.90 L 272.15 298.10 L 272.51 300.52 L 272.87 302.85 L 273.23 305.42 L 273.59 308.06 L 273.95 310.76 L 274.31 313.55 L 274.67 316.30 L 275.03 318.87 L 275.39 321.51 L 275.75 324.38 L 276.11 327.02 L 276.47 328.96 L 276.83 329.76 L 277.19 329.03 L 277.54 327.19 L 277.90 325.03 L 278.26 323.33 L 278.62 322.12 L 278.98 320.93 L 279.34 319.95 L 279.70 319.39 L 280.06 319.46 L 280.42 320.24 L 280.78 321.33 L 281.14 322.32 L 281.50 322.77 L 281.86 322.25 L 282.22 320.83 L 282.58 318.89 L 282.94 316.84 L 283.30 315.07 L 283.66 313.66 L 284.02 312.33 L 284.38 311.02 L 284.74 309.70 L 285.10 308.31 L 285.46 306.80 L 285.82 304.98 L 286.18 302.85 L 286.54 300.68 L 286.90 298.78 L 287.26 297.41 L 287.62 296.47 L 287.98 295.59 L 288.34 294.83 L 288.70 294.25 L 289.06 293.90 L 289.42 293.85 L 289.78 294.06 L 290.14 294.45 L 290.50 294.93 L 290.86 295.39 L 291.22 295.80 L 291.58 296.21 L 291.94 296.68 L 292.30 297.29 L 292.66 298.15 L 293.02 299.88 L 293.38 301.93 L 293.74 303.69 L 294.10 305.61 L 294.46 307.40 L 294.82 308.61 L 295.18 308.76 L 295.54 307.27 L 295.90 304.64 L 296.26 301.62 L 296.62 298.95 L 296.98 296.53 L 297.34 293.83 L 297.70 291.21 L 298.06 289.09 L 298.42 287.87 L 298.78 287.84 L 299.14 288.68 L 299.49 290.10 L 299.85 291.83 L 300.21 293.64 L 300.57 295.87 L 300.93 298.79 L 301.29 301.66 L 301.65 303.74 L 302.01 305.05 L 302.37 306.17 L 302.73 306.85 L 303.09 306.80 L 303.42 306.07" clip-path="url(#pd036d573c9)" style="fill: none; stroke-dasharray: 5.466,2.364; stroke-dashoffset: 0.000; stroke: #000000; stroke-opacity: 0.5; stroke-width: 1.5"/>
<path d="M 303.43 306.06 L 303.45 306.00 L 303.81 304.79 L 304.17 302.63 L 304.53 298.18 L 304.56 297.95" clip-path="url(#pd036d573c9)" style="fill: none; stroke-dasharray: 5.742,2.483; stroke-dashoffset: 0.000; stroke: #000000; stroke-opacity: 0.5; stroke-width: 1.5"/>
<path d="M 304.56 297.93 L 304.89 295.15 L 305.25 293.58 L 305.61 293.23 L 305.97 293.62 L 306.33 295.64 L 306.43 296.00" clip-path="url(#pd036d573c9)" style="fill: none; stroke-dasharray: 5.500,2.379; stroke-dashoffset: 0.000; stroke: #000000; stroke-opacity: 0.5; stroke-width: 1.5"/>
<path d="M 306.43 296.01 L 306.69 296.99 L 307.05 297.91 L 307.41 298.68 L 307.77 299.40 L 308.13 300.16 L 308.49 301.08 L 308.85 302.35 L 309.21 303.11 L 309.57 302.69 L 309.93 301.75 L 310.29 300.54 L 310.65 298.87 L 311.01 297.25 L 311.37 296.21 L 311.73 296.08 L 312.09 296.21 L 312.45 296.39 L 312.81 296.56 L 313.17 296.64 L 313.53 296.54 L 313.89 296.34 L 314.25 296.33 L 314.61 297.07 L 314.97 298.27 L 315.33 299.43 L 315.69 300.55 L 316.05 301.31 L 316.41 300.66 L 316.77 299.18 L 317.13 298.11 L 317.49 297.85 L 317.85 297.72 L 318.21 298.48 L 318.57 300.10 L 318.93 301.79 L 319.29 303.78 L 319.65 305.60 L 320.01 306.81 L 320.37 307.78 L 320.73 308.42 L 321.09 308.06 L 321.44 305.64 L 321.80 303.86 L 322.16 304.05 L 322.52 304.73 L 322.88 305.80 L 323.24 307.15 L 323.60 308.72 L 323.96 311.26 L 324.32 315.01 L 324.68 318.71 L 325.04 322.99 L 325.40 325.41 L 325.76 325.14 L 326.12 324.25 L 326.48 323.05 L 326.84 321.82 L 327.20 320.85 L 327.56 320.40 L 327.92 320.71 L 328.28 321.68 L 328.64 323.12 L 329.00 324.85 L 329.36 326.69 L 329.72 328.83 L 330.08 331.62 L 330.44 334.78 L 330.80 338.05 L 331.16 341.41 L 331.52 345.06 L 331.88 348.80 L 332.24 352.41 L 332.60 356.30 L 332.96 360.69 L 333.32 364.60 L 333.68 367.05 L 334.04 367.32 L 334.40 366.54 L 334.76 365.15 L 335.12 363.30 L 335.48 361.16 L 335.84 358.68 L 336.20 354.84 L 336.56 350.10 L 336.92 345.20 L 337.28 340.26 L 337.64 334.65 L 338.00 327.37 L 338.36 318.56 L 338.72 311.50 L 339.08 305.38 L 339.44 300.01 L 339.80 295.65 L 340.16 292.26 L 340.52 289.43 L 340.88 286.96 L 341.24 284.67 L 341.60 282.29 L 341.96 279.74 L 342.32 277.42 L 342.68 275.68 L 343.04 274.91 L 343.40 276.24 L 343.75 279.91 L 344.11 283.96 L 344.47 287.46 L 344.83 291.15 L 345.19 294.86 L 345.55 298.37 L 345.91 301.73 L 346.27 305.08 L 346.63 308.16 L 346.99 310.75 L 347.35 312.89 L 347.71 314.84 L 348.07 316.47 L 348.43 317.63 L 348.79 318.41 L 349.15 319.10 L 349.51 319.60 L 349.87 319.82 L 350.23 319.72 L 350.59 319.38 L 350.95 318.89 L 351.31 318.31 L 351.67 317.72 L 352.03 317.05 L 352.39 316.20 L 352.75 315.16 L 353.11 313.83 L 353.47 312.10 L 353.83 309.96 L 354.19 307.42 L 354.55 304.36 L 354.91 299.14 L 355.27 293.03 L 355.63 288.40 L 355.99 285.87 L 356.35 283.56 L 356.71 281.54 L 357.07 279.88 L 357.43 278.68 L 357.79 278.02 L 358.15 278.00 L 358.51 278.66 L 358.87 279.87 L 359.23 281.47 L 359.59 283.30 L 359.95 285.21 L 360.31 287.51 L 360.67 290.50 L 361.03 293.39 L 361.39 295.88 L 361.75 298.34 L 362.11 300.53 L 362.47 302.21 L 362.83 303.20 L 363.19 304.18 L 363.55 305.37 L 363.91 306.66 L 364.08 307.30" clip-path="url(#pd036d573c9)" style="fill: none; stroke-dasharray: 5.506,2.381; stroke-dashoffset: 0.000; stroke: #000000; stroke-opacity: 0.5; stroke-width: 1.5"/>
<path d="M 364.08 307.31 L 364.27 308.02 L 364.63 309.86 L 364.99 311.61 L 365.35 312.33 L 365.70 311.60 L 366.06 310.33 L 366.21 309.95" clip-path="url(#pd036d573c9)" style="fill: none; stroke-dasharray: 5.419,2.343; stroke-dashoffset: 0.000; stroke: #000000; stroke-opacity: 0.5; stroke-width: 1.5"/>
<path d="M 366.21 309.94 L 366.42 309.39 L 366.78 308.55 L 367.14 307.86 L 367.50 307.17 L 367.86 306.67 L 368.22 306.77 L 368.58 308.11 L 368.94 309.56 L 369.30 311.15 L 369.66 312.17 L 370.02 311.62 L 370.38 309.97 L 370.74 308.05 L 371.10 305.57 L 371.46 302.67 L 371.82 299.91 L 372.18 297.25 L 372.54 294.55 L 372.90 293.07 L 373.26 293.12 L 373.62 293.38" clip-path="url(#pd036d573c9)" style="fill: none; stroke-dasharray: 5.216,2.256; stroke-dashoffset: 0.000; stroke: #000000; stroke-opacity: 0.5; stroke-width: 1.5"/>
<path d="M 373.63 293.39 L 373.98 293.71 L 374.34 294.17 L 374.70 294.81 L 375.06 295.19 L 375.42 295.20 L 375.78 295.18 L 376.14 295.15 L 376.50 295.10 L 376.86 295.03 L 377.22 294.95 L 377.58 294.84 L 377.94 294.72 L 378.30 294.02 L 378.66 292.34 L 379.02 290.71 L 379.38 289.72 L 379.74 288.89 L 380.10 288.14 L 380.46 287.41 L 380.82 286.68 L 381.18 285.98 L 381.54 285.25 L 381.90 284.41 L 382.26 283.51 L 382.62 282.83 L 382.98 282.28 L 383.34 282.02 L 383.70 282.20 L 384.06 282.54 L 384.42 282.94 L 384.78 283.43 L 385.14 283.60 L 385.50 283.46 L 385.86 283.27 L 386.22 283.12 L 386.58 282.97 L 386.94 282.89 L 387.30 283.12 L 387.66 283.90 L 388.01 285.02 L 388.37 286.23 L 388.73 287.31 L 389.09 288.08 L 389.45 288.83 L 389.81 289.47 L 390.17 289.79 L 390.53 289.65 L 390.89 289.18 L 391.25 288.58 L 391.61 288.07 L 391.97 287.86 L 392.33 288.13 L 392.69 288.83 L 393.05 289.84 L 393.41 290.99 L 393.77 292.41 L 394.13 294.66 L 394.49 297.14 L 394.85 299.12 L 395.21 300.33 L 395.57 301.34 L 395.93 302.14 L 396.29 302.72 L 396.65 303.20 L 397.01 303.65 L 397.37 304.05 L 397.73 304.40 L 397.76 304.42" clip-path="url(#pd036d573c9)" style="fill: none; stroke-dasharray: 5.186,2.243; stroke-dashoffset: 0.000; stroke: #000000; stroke-opacity: 0.5; stroke-width: 1.5"/>
<path d="M 397.77 304.43 L 398.09 304.68 L 398.45 304.87 L 398.81 304.98 L 399.17 305.02 L 399.53 305.05 L 399.89 305.06 L 400.25 305.06 L 400.61 305.06 L 400.97 305.06 L 401.33 305.06 L 401.69 305.06 L 402.05 305.06 L 402.41 305.06 L 402.77 305.06 L 403.13 305.06" clip-path="url(#pd036d573c9)" style="fill: none; stroke-dasharray: 5.550,2.400; stroke-dashoffset: 0.000; stroke: #000000; stroke-opacity: 0.5; stroke-width: 1.5"/>
   </g>
   <g id="line2d_41">
    <path d="M 85.032 305.28 L 86.480727 296.945351 L 86.842908 294.638845 L 87.929454 286.218643 L 88.291636 286.201525 L 88.653818 288.919595 L 89.740363 299.365188 L 90.102545 301.969896 L 90.464727 301.610513 L 91.18909 290.835508 L 91.551272 288.445836 L 91.913454 289.658348 L 93.362182 299.363698 L 93.724363 300.881253 L 94.086545 298.532449 L 94.810909 285.753136 L 95.17309 286.391492 L 96.983999 301.176 L 125.999999 305.712 L 128.159999 295.92 L 130.319999 285.12 L 131.039999 283.291056 L 132.119999 281.232674 L 133.559999 278.623447 L 135 275.483649 L 135.36 274.974655 L 135.719999 274.705783 L 136.08 274.816416 L 136.44 275.538343 L 137.879999 279.72 L 138.599999 280.383829 L 139.679999 280.919793 L 140.76 281.452745 L 141.479999 282.11122 L 141.84 282.6 L 142.199999 284.099628 L 144 296.64 L 150.696 302.76 L 151.415407 307.925158 L 151.775111 309.60464 L 152.134814 310.696041 L 152.494518 311.209848 L 152.854222 311.024713 L 153.213925 309.793144 L 154.65274 302.762322 L 155.372148 300.31126 L 155.731852 299.374126 L 156.091555 298.853775 L 156.451259 298.874739 L 156.810963 299.285517 L 157.53037 300.66277 L 157.890074 301.466555 L 159.328888 305.921852 L 159.688592 305.788735 L 160.048296 304.660645 L 160.767704 301.472408 L 161.846815 298.062451 L 162.206518 297.431345 L 162.566222 297.460175 L 163.645333 299.102164 L 164.005037 299.092001 L 164.724444 298.480507 L 165.084148 298.656523 L 165.443851 299.851971 L 166.163259 303.269599 L 166.882666 305.489896 L 168.681185 310.105979 L 170.119999 313.435038 L 170.479703 314.685834 L 170.839407 316.673577 L 171.558815 323.870482 L 172.637926 330.87014 L 173.357333 333.915867 L 174.436444 336.99156 L 175.515555 340.009367 L 176.95437 345.425925 L 178.033481 349.073746 L 179.112592 352.420199 L 179.472296 353.094726 L 179.831999 353.291856 L 180.191703 352.542064 L 181.270814 347.726473 L 181.630518 347.04345 L 181.990222 347.31181 L 182.349926 348.086188 L 183.069333 350.338429 L 183.429037 352.030451 L 184.148444 356.583884 L 184.508148 357.617713 L 184.867851 356.982191 L 185.227555 355.174047 L 186.306666 348.195943 L 187.026073 346.075393 L 188.105185 343.881123 L 189.544 341.685456 L 190.263407 340.88282 L 190.623111 340.779655 L 190.982814 341.12168 L 191.342518 341.902059 L 192.421629 345.277619 L 193.141037 348.523474 L 194.220148 353.428892 L 195.299259 356.646994 L 196.738073 360.538262 L 198.536592 366.743652 L 198.896296 367.414385 L 199.256 367.631276 L 199.615703 367.524862 L 199.975407 367.24291 L 200.694814 366.180801 L 201.414222 364.501776 L 202.133629 362.262661 L 202.853036 359.51118 L 203.21274 356.60435 L 204.291851 343.927237 L 205.011259 337.04395 L 205.370962 334.370812 L 206.09037 331.097814 L 206.450073 330.129823 L 206.809777 330.05793 L 207.169481 330.708417 L 207.888888 333.333664 L 210.047111 342.5542 L 210.766518 344.905617 L 211.126222 345.23705 L 211.485925 344.462563 L 212.205333 340.337334 L 213.644147 330.246815 L 215.80237 314.317342 L 216.162073 312.690462 L 216.521777 312.122113 L 216.881481 312.905844 L 217.960592 317.843336 L 219.399407 325.002859 L 220.838222 332.054898 L 222.277036 340.819743 L 222.63674 341.621926 L 222.996444 341.120624 L 223.715851 337.420488 L 224.075555 335.533915 L 224.794962 333.380898 L 225.154666 332.536722 L 225.514369 332.010996 L 225.874074 331.97741 L 226.233777 332.443907 L 226.953185 333.619279 L 227.312888 333.570028 L 227.672592 332.237619 L 229.111407 322.790058 L 231.989036 302.543635 L 232.708444 299.556274 L 234.147258 294.972539 L 234.506962 293.871267 L 234.866666 293.274872 L 235.226369 293.377058 L 236.30548 294.555525 L 236.665184 294.580842 L 237.024888 294.131975 L 237.384592 293.268839 L 238.103999 290.664 L 244.26 277.416 L 259.199999 290.34 L 269.496 298.584 L 269.855226 297.033343 L 270.214451 296.047877 L 270.573677 295.499489 L 270.932903 295.260064 L 271.292129 295.201489 L 271.651354 295.545424 L 272.01058 297.299681 L 273.806709 309.689787 L 276.32129 328.298586 L 276.680516 329.606885 L 277.039742 329.497607 L 277.398967 328.01749 L 278.117419 323.922266 L 279.195096 320.315188 L 279.554322 319.55762 L 279.913548 319.329097 L 280.272773 319.847783 L 281.350451 322.674735 L 281.709677 322.607928 L 282.068903 321.521151 L 283.865032 312.900478 L 285.301935 307.489391 L 286.020386 303.822557 L 287.098064 297.942882 L 287.816516 295.979559 L 288.534967 294.487932 L 288.894193 294.027069 L 289.253419 293.834328 L 289.612645 293.936978 L 290.331096 294.701308 L 292.486451 297.678978 L 292.845677 298.961419 L 294.28258 306.578896 L 294.641806 308.122433 L 295.001032 308.864939 L 295.360258 308.19172 L 295.719483 306.029332 L 297.156386 295.190146 L 297.874838 290.07171 L 298.234064 288.349202 L 298.59329 287.712318 L 298.952516 288.168924 L 299.311741 289.322622 L 300.389419 294.592413 L 301.467096 302.806512 L 302.185548 305.569074 L 302.544774 306.48061 L 302.903999 306.936 L 309.383999 303.624 L 311.543999 296.136 L 318.239999 299.736 L 319.895999 306.504 L 320.61844 304.531859 L 320.979661 304.017453 L 321.340881 303.73728 L 321.702101 303.631186 L 322.063322 303.73222 L 322.424542 304.322567 L 323.146982 306.687643 L 323.508203 308.265898 L 323.869423 310.430641 L 325.314304 325.148826 L 325.675525 325.273297 L 326.036745 324.498507 L 327.120406 321.035065 L 327.481627 320.443751 L 327.842847 320.579277 L 328.204067 321.421227 L 328.926508 324.475654 L 329.648949 328.33519 L 330.371389 334.156688 L 331.816271 348.150181 L 333.622372 366.594708 L 333.983593 367.106945 L 334.344813 365.853441 L 335.067254 360.740295 L 335.428474 357.202363 L 336.873355 338.231382 L 337.595796 328.370475 L 338.679457 310.427898 L 339.763118 295.966378 L 340.485559 289.735655 L 342.29166 277.557825 L 342.652881 275.765277 L 343.014101 274.918785 L 343.375322 276.091669 L 346.265084 304.033814 L 346.987525 308.893028 L 348.071186 314.121462 L 348.793626 317.094066 L 349.516067 318.995623 L 349.877287 319.31616 L 350.238508 319.196461 L 350.599728 318.790797 L 351.322169 317.352702 L 352.40583 314.306458 L 353.128271 310.940733 L 353.850711 306.472601 L 354.211932 303.749616 L 355.656813 288.149975 L 356.740474 281.611367 L 357.462915 278.658497 L 357.824135 277.993759 L 358.185355 278.036748 L 358.546576 278.767122 L 359.269017 281.66963 L 359.991457 285.435406 L 360.713898 290.895525 L 361.436338 296.116827 L 362.519999 302.4 L 369.576 311.544 L 369.951999 310.767742 L 370.704 307.881314 L 371.079999 305.761359 L 372.207999 297.410345 L 372.96 293.04 L 380.159999 287.549703 L 384.479999 284.688 L 385.559999 283.737023 L 386.279999 283.1438 L 387 282.888 L 387.36 283.226667 L 387.719999 284.087426 L 388.799999 287.473635 L 389.879999 289.556498 L 390.24 289.8 L 390.599999 289.582031 L 391.679999 288 L 392.039999 287.867331 L 392.4 288.230556 L 392.76 289.002759 L 393.479999 291.217924 L 393.84 292.786926 L 394.92 299.376 L 395.639999 301.51254 L 396.359999 302.814453 L 397.44 304.123548 L 398.159999 304.720203 L 398.879999 304.992 L 399.959999 305.064 L 399.959999 305.064 
" clip-path="url(#pd036d573c9)" style="fill: none; stroke: #4c72b0; stroke-opacity: 0.75; stroke-width: 1.5; stroke-linecap: round"/>
   </g>
   <g id="patch_14">
    <path d="M 69.12 380.16 L 69.12 269.28 
" style="fill: none; stroke: #ffffff; stroke-width: 1.44; stroke-linejoin: miter; stroke-linecap: square"/>
   </g>
   <g id="patch_15">
    <path d="M 419.04 380.16 L 419.04 269.28 
" style="fill: none; stroke: #ffffff; stroke-width: 1.44; stroke-linejoin: miter; stroke-linecap: square"/>
   </g>
   <g id="patch_16">
    <path d="M 69.119999 380.16 L 419.039999 380.16 
" style="fill: none; stroke: #ffffff; stroke-width: 1.44; stroke-linejoin: miter; stroke-linecap: square"/>
   </g>
   <g id="patch_17">
    <path d="M 69.119999 269.28 L 419.039999 269.28 
" style="fill: none; stroke: #ffffff; stroke-width: 1.44; stroke-linejoin: miter; stroke-linecap: square"/>
   </g>
  </g>
 </g>
 <defs>
  <clipPath id="p8c6adeb11e">
   <rect x="69.12" y="12.96" width="349.92" height="110.88"/>
  </clipPath>
  <clipPath id="p5348a36c46">
   <rect x="69.12" y="141.12" width="349.92" height="110.88"/>
  </clipPath>
  <clipPath id="pd036d573c9">
   <rect x="69.12" y="269.28" width="349.92" height="110.88"/>
  </clipPath>
 </defs>
</svg>
</body>
</html>
